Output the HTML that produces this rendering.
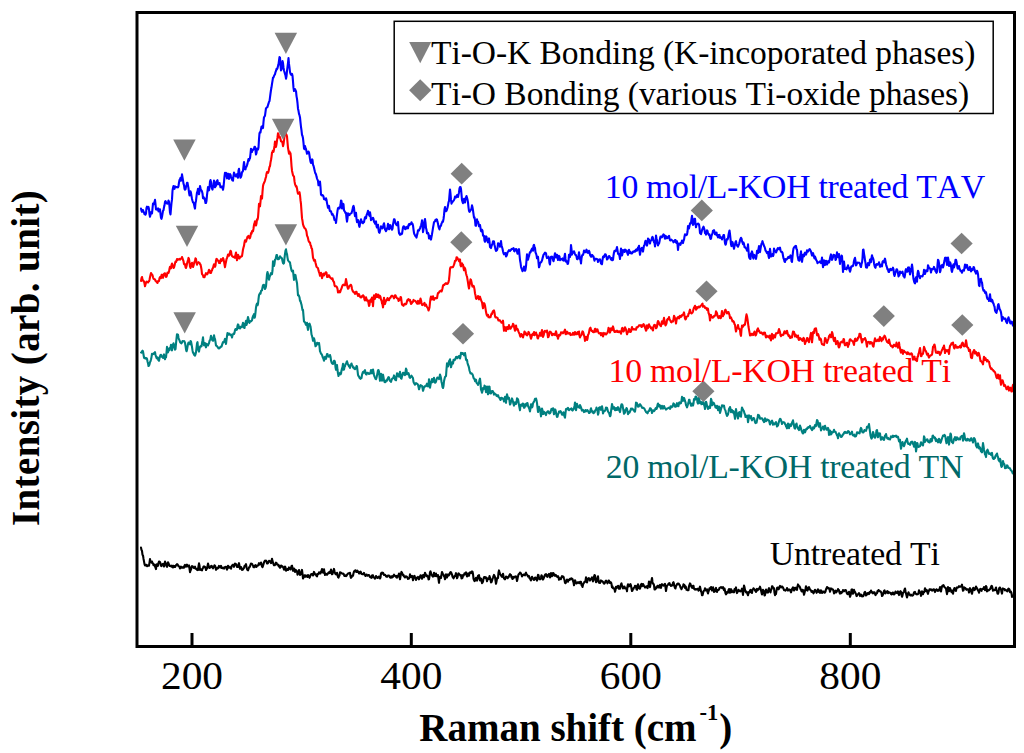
<!DOCTYPE html>
<html><head><meta charset="utf-8"><style>
html,body{margin:0;padding:0;background:#fff;width:1024px;height:753px;overflow:hidden}
svg{display:block}
text{font-family:"Liberation Serif",serif;font-kerning:none}
</style></head><body>
<svg width="1024" height="753" viewBox="0 0 1024 753">
<rect x="0" y="0" width="1024" height="753" fill="#fff"/>
<g fill="none" stroke-width="2.1" stroke-linejoin="round" stroke-linecap="round">
<path d="M141.0,547.6 141.5,550.0 142.0,550.8 142.5,554.8 143.0,555.5 143.5,558.7 144.0,561.4 144.5,564.1 145.0,565.5 145.5,564.8 146.0,565.3 146.5,564.8 147.0,566.2 147.5,566.0 148.0,565.6 148.5,565.2 149.0,565.7 149.5,562.6 150.0,559.1 150.5,561.8 151.0,561.4 151.5,562.6 152.0,561.5 152.5,562.9 153.0,563.4 153.5,565.1 154.0,564.4 154.5,564.7 155.0,566.4 155.5,567.7 156.0,569.1 156.5,564.5 157.0,564.3 157.5,566.0 158.0,565.7 158.5,562.9 159.0,561.6 159.5,561.5 160.0,562.2 160.5,563.4 161.0,565.9 161.5,566.1 162.0,564.2 162.5,564.2 163.0,563.9 163.5,564.5 164.0,566.6 164.5,563.9 165.0,561.6 165.5,563.1 166.0,564.0 166.5,566.0 167.0,566.8 167.5,564.0 168.0,562.3 168.5,563.2 169.0,564.6 169.5,566.0 170.0,565.8 170.5,565.8 171.0,565.7 171.5,566.7 172.0,565.6 172.5,566.6 173.0,567.5 173.5,565.8 174.0,566.8 174.5,566.0 175.0,567.0 175.5,566.4 176.0,565.3 176.5,564.8 177.0,564.2 177.5,564.5 178.0,565.1 178.5,566.3 179.0,566.3 179.5,566.6 180.0,568.5 180.5,567.4 181.0,566.6 181.5,567.7 182.0,567.7 182.5,567.8 183.0,567.1 183.5,567.0 184.0,567.7 184.5,565.5 185.0,564.8 185.5,566.0 186.0,566.7 186.5,565.9 187.0,564.7 187.5,565.9 188.0,566.4 188.5,565.6 189.0,565.4 189.5,568.5 190.0,572.2 190.5,570.4 191.0,569.7 191.5,566.9 192.0,566.1 192.5,566.3 193.0,566.8 193.5,567.7 194.0,568.0 194.5,567.5 195.0,566.7 195.5,568.7 196.0,568.8 196.5,569.0 197.0,569.8 197.5,568.6 198.0,570.1 198.5,566.1 199.0,563.4 199.5,565.5 200.0,569.9 200.5,569.3 201.0,569.2 201.5,570.2 202.0,570.4 202.5,568.8 203.0,568.0 203.5,566.7 204.0,566.4 204.5,567.1 205.0,566.9 205.5,567.5 206.0,570.0 206.5,568.8 207.0,568.5 207.5,566.1 208.0,563.6 208.5,565.4 209.0,567.6 209.5,567.9 210.0,566.9 210.5,567.4 211.0,566.1 211.5,565.8 212.0,566.2 212.5,567.5 213.0,568.3 213.5,567.2 214.0,566.3 214.5,565.3 215.0,565.7 215.5,567.2 216.0,569.7 216.5,568.6 217.0,568.7 217.5,567.8 218.0,568.3 218.5,567.4 219.0,565.9 219.5,566.5 220.0,567.3 220.5,566.6 221.0,565.8 221.5,567.9 222.0,567.7 222.5,568.2 223.0,567.5 223.5,568.0 224.0,568.6 224.5,567.5 225.0,567.0 225.5,567.0 226.0,566.8 226.5,568.3 227.0,569.6 227.5,567.9 228.0,565.7 228.5,566.2 229.0,567.8 229.5,567.7 230.0,567.1 230.5,567.4 231.0,568.7 231.5,566.7 232.0,565.4 232.5,565.2 233.0,564.7 233.5,565.5 234.0,566.8 234.5,565.2 235.0,563.6 235.5,564.4 236.0,564.1 236.5,565.2 237.0,567.0 237.5,566.4 238.0,566.9 238.5,564.6 239.0,563.2 239.5,565.7 240.0,568.8 240.5,568.4 241.0,567.0 241.5,568.0 242.0,570.0 242.5,569.5 243.0,569.5 243.5,568.4 244.0,567.9 244.5,566.1 245.0,565.6 245.5,565.2 246.0,564.1 246.5,567.2 247.0,569.1 247.5,570.1 248.0,570.3 248.5,569.0 249.0,567.3 249.5,567.4 250.0,566.4 250.5,564.8 251.0,563.5 251.5,564.2 252.0,563.8 252.5,564.7 253.0,565.5 253.5,567.1 254.0,567.3 254.5,566.3 255.0,565.5 255.5,565.1 256.0,566.9 256.5,566.9 257.0,565.6 257.5,565.6 258.0,565.5 258.5,564.4 259.0,563.2 259.5,564.6 260.0,564.0 260.5,564.1 261.0,562.6 261.5,564.1 262.0,566.5 262.5,567.2 263.0,565.8 263.5,564.2 264.0,562.4 264.5,561.3 265.0,560.7 265.5,561.2 266.0,560.5 266.5,561.3 267.0,563.4 267.5,563.5 268.0,563.2 268.5,562.0 269.0,560.8 269.5,561.5 270.0,561.1 270.5,561.9 271.0,563.1 271.5,561.4 272.0,558.8 272.5,561.1 273.0,562.4 273.5,564.1 274.0,565.2 274.5,565.2 275.0,565.1 275.5,564.2 276.0,562.7 276.5,562.9 277.0,564.3 277.5,564.6 278.0,564.5 278.5,565.9 279.0,565.3 279.5,567.3 280.0,567.8 280.5,566.4 281.0,565.5 281.5,565.8 282.0,566.7 282.5,566.3 283.0,566.9 283.5,568.2 284.0,569.6 284.5,569.5 285.0,566.6 285.5,567.3 286.0,570.7 286.5,570.2 287.0,569.5 287.5,569.1 288.0,570.0 288.5,568.9 289.0,567.4 289.5,568.3 290.0,569.0 290.5,569.5 291.0,567.7 291.5,566.1 292.0,565.7 292.5,568.0 293.0,570.7 293.5,570.5 294.0,568.6 294.5,570.4 295.0,571.9 295.5,569.8 296.0,570.3 296.5,570.8 297.0,571.2 297.5,574.6 298.0,573.2 298.5,571.8 299.0,570.0 299.5,573.0 300.0,574.9 300.5,574.5 301.0,573.3 301.5,571.5 302.0,569.9 302.5,573.9 303.0,578.5 303.5,577.5 304.0,577.0 304.5,575.2 305.0,575.7 305.5,576.7 306.0,575.4 306.5,576.3 307.0,576.4 307.5,576.9 308.0,575.0 308.5,576.0 309.0,576.2 309.5,577.8 310.0,576.7 310.5,575.1 311.0,574.4 311.5,574.0 312.0,574.1 312.5,575.0 313.0,575.5 313.5,573.6 314.0,571.9 314.5,573.3 315.0,574.2 315.5,574.7 316.0,574.4 316.5,575.8 317.0,576.5 317.5,574.1 318.0,574.3 318.5,573.8 319.0,572.3 319.5,573.3 320.0,573.5 320.5,573.4 321.0,571.6 321.5,570.9 322.0,569.1 322.5,572.1 323.0,572.7 323.5,571.3 324.0,569.2 324.5,572.3 325.0,575.0 325.5,574.1 326.0,573.8 326.5,574.3 327.0,574.8 327.5,574.1 328.0,573.5 328.5,572.6 329.0,572.9 329.5,571.9 330.0,573.1 330.5,571.9 331.0,569.6 331.5,571.8 332.0,574.2 332.5,574.0 333.0,572.3 333.5,570.6 334.0,568.9 334.5,571.2 335.0,573.1 335.5,574.0 336.0,574.3 336.5,574.5 337.0,572.8 337.5,575.0 338.0,577.0 338.5,577.6 339.0,576.2 339.5,575.6 340.0,572.4 340.5,572.7 341.0,572.6 341.5,573.2 342.0,573.5 342.5,573.6 343.0,573.6 343.5,573.7 344.0,575.0 344.5,576.0 345.0,575.8 345.5,575.4 346.0,576.1 346.5,575.8 347.0,574.8 347.5,574.1 348.0,573.5 348.5,573.4 349.0,573.3 349.5,573.0 350.0,572.9 350.5,576.3 351.0,577.8 351.5,577.3 352.0,575.9 352.5,575.4 353.0,575.7 353.5,573.2 354.0,571.6 354.5,570.9 355.0,571.3 355.5,570.3 356.0,571.4 356.5,572.0 357.0,571.9 357.5,570.7 358.0,571.7 358.5,572.1 359.0,573.4 359.5,573.5 360.0,571.9 360.5,571.6 361.0,572.4 361.5,573.8 362.0,574.1 362.5,574.3 363.0,573.8 363.5,574.2 364.0,572.9 364.5,574.4 365.0,575.0 365.5,576.0 366.0,575.0 366.5,574.5 367.0,574.8 367.5,575.6 368.0,575.5 368.5,575.1 369.0,575.0 369.5,575.8 370.0,577.0 370.5,577.2 371.0,577.6 371.5,577.8 372.0,575.5 372.5,575.3 373.0,575.4 373.5,577.4 374.0,577.6 374.5,577.9 375.0,578.7 375.5,577.1 376.0,576.0 376.5,577.2 377.0,577.5 377.5,578.0 378.0,577.4 378.5,576.7 379.0,576.6 379.5,577.9 380.0,578.4 380.5,577.5 381.0,573.2 381.5,574.0 382.0,572.6 382.5,572.7 383.0,572.7 383.5,574.1 384.0,575.0 384.5,574.7 385.0,574.7 385.5,575.3 386.0,576.4 386.5,576.1 387.0,576.8 387.5,576.0 388.0,575.6 388.5,575.5 389.0,575.6 389.5,576.6 390.0,577.4 390.5,577.7 391.0,576.4 391.5,576.4 392.0,577.6 392.5,576.4 393.0,576.8 393.5,575.5 394.0,574.7 394.5,575.8 395.0,575.7 395.5,576.4 396.0,575.8 396.5,577.5 397.0,577.6 397.5,575.9 398.0,576.4 398.5,575.4 399.0,573.5 399.5,576.5 400.0,579.2 400.5,576.6 401.0,573.6 401.5,571.9 402.0,572.9 402.5,573.7 403.0,575.3 403.5,574.9 404.0,576.3 404.5,576.9 405.0,577.4 405.5,576.4 406.0,576.2 406.5,576.8 407.0,576.9 407.5,578.0 408.0,578.9 408.5,578.7 409.0,578.5 409.5,577.5 410.0,574.4 410.5,576.7 411.0,577.0 411.5,576.6 412.0,575.8 412.5,577.6 413.0,580.3 413.5,578.3 414.0,576.2 414.5,575.9 415.0,577.3 415.5,578.0 416.0,579.9 416.5,579.0 417.0,577.5 417.5,577.9 418.0,576.9 418.5,577.8 419.0,579.3 419.5,578.1 420.0,576.7 420.5,575.3 421.0,575.5 421.5,577.6 422.0,578.7 422.5,576.5 423.0,575.0 423.5,576.8 424.0,577.3 424.5,575.2 425.0,572.8 425.5,573.9 426.0,575.3 426.5,576.1 427.0,575.5 427.5,575.8 428.0,576.5 428.5,579.4 429.0,579.2 429.5,576.4 430.0,572.2 430.5,571.4 431.0,573.1 431.5,574.7 432.0,575.1 432.5,576.2 433.0,576.6 433.5,575.4 434.0,572.8 434.5,575.1 435.0,576.1 435.5,575.8 436.0,573.6 436.5,576.2 437.0,576.3 437.5,575.6 438.0,575.0 438.5,579.4 439.0,582.8 439.5,578.3 440.0,577.0 440.5,576.4 441.0,578.0 441.5,574.6 442.0,572.0 442.5,573.2 443.0,574.4 443.5,574.5 444.0,576.1 444.5,576.9 445.0,579.2 445.5,577.5 446.0,574.4 446.5,576.1 447.0,577.5 447.5,575.3 448.0,574.4 448.5,575.6 449.0,575.2 449.5,574.5 450.0,572.8 450.5,572.1 451.0,572.2 451.5,573.4 452.0,574.6 452.5,576.7 453.0,577.5 453.5,578.3 454.0,577.4 454.5,576.0 455.0,575.9 455.5,574.6 456.0,573.2 456.5,575.9 457.0,578.2 457.5,577.2 458.0,574.8 458.5,573.4 459.0,573.8 459.5,574.5 460.0,575.0 460.5,575.7 461.0,575.1 461.5,578.4 462.0,578.2 462.5,577.7 463.0,575.0 463.5,575.7 464.0,574.8 464.5,573.4 465.0,574.1 465.5,573.0 466.0,572.3 466.5,574.8 467.0,576.4 467.5,575.9 468.0,573.6 468.5,573.5 469.0,575.8 469.5,573.0 470.0,572.3 470.5,572.5 471.0,573.1 471.5,572.0 472.0,571.4 472.5,571.6 473.0,574.0 473.5,578.6 474.0,580.1 474.5,581.1 475.0,580.7 475.5,578.8 476.0,577.8 476.5,579.7 477.0,580.6 477.5,578.6 478.0,575.9 478.5,575.8 479.0,575.1 479.5,578.5 480.0,580.4 480.5,578.3 481.0,578.6 481.5,580.5 482.0,583.1 482.5,582.5 483.0,581.5 483.5,578.9 484.0,577.2 484.5,577.0 485.0,577.0 485.5,578.1 486.0,577.3 486.5,578.5 487.0,581.3 487.5,579.6 488.0,578.4 488.5,579.0 489.0,578.9 489.5,576.1 490.0,577.8 490.5,579.9 491.0,582.4 491.5,582.1 492.0,580.6 492.5,578.9 493.0,577.6 493.5,576.1 494.0,574.9 494.5,575.9 495.0,577.2 495.5,580.6 496.0,583.8 496.5,581.5 497.0,578.5 497.5,577.7 498.0,578.1 498.5,572.5 499.0,570.4 499.5,572.4 500.0,574.0 500.5,574.6 501.0,575.5 501.5,576.3 502.0,576.9 502.5,575.9 503.0,573.7 503.5,576.3 504.0,578.5 504.5,578.3 505.0,579.4 505.5,578.0 506.0,576.5 506.5,577.4 507.0,576.9 507.5,578.2 508.0,577.7 508.5,577.3 509.0,576.1 509.5,575.0 510.0,574.2 510.5,575.1 511.0,575.0 511.5,577.5 512.0,577.9 512.5,579.0 513.0,576.7 513.5,578.2 514.0,577.3 514.5,577.1 515.0,576.6 515.5,576.7 516.0,576.3 516.5,578.4 517.0,581.0 517.5,578.9 518.0,576.4 518.5,574.5 519.0,574.0 519.5,573.7 520.0,572.5 520.5,572.9 521.0,573.6 521.5,574.6 522.0,576.4 522.5,575.0 523.0,575.4 523.5,574.6 524.0,574.7 524.5,574.6 525.0,575.3 525.5,573.6 526.0,572.7 526.5,574.4 527.0,574.7 527.5,575.2 528.0,576.5 528.5,576.0 529.0,576.0 529.5,578.3 530.0,578.3 530.5,579.7 531.0,580.4 531.5,577.9 532.0,576.8 532.5,577.9 533.0,578.5 533.5,579.4 534.0,579.9 534.5,578.4 535.0,577.6 535.5,577.6 536.0,579.2 536.5,579.6 537.0,580.6 537.5,577.7 538.0,574.9 538.5,575.2 539.0,577.9 539.5,579.3 540.0,579.3 540.5,579.2 541.0,577.3 541.5,575.2 542.0,576.2 542.5,578.4 543.0,579.6 543.5,578.7 544.0,577.3 544.5,576.0 545.0,574.8 545.5,574.4 546.0,574.1 546.5,575.9 547.0,576.6 547.5,576.8 548.0,575.0 548.5,574.5 549.0,573.9 549.5,575.0 550.0,577.4 550.5,575.9 551.0,573.1 551.5,574.0 552.0,576.3 552.5,575.4 553.0,573.0 553.5,573.2 554.0,574.2 554.5,575.7 555.0,575.7 555.5,574.8 556.0,575.3 556.5,576.4 557.0,576.4 557.5,577.0 558.0,576.2 558.5,577.2 559.0,579.8 559.5,578.9 560.0,578.2 560.5,578.3 561.0,579.1 561.5,577.2 562.0,576.1 562.5,577.0 563.0,576.5 563.5,576.8 564.0,578.5 564.5,580.0 565.0,582.7 565.5,583.2 566.0,582.1 566.5,581.4 567.0,579.5 567.5,581.3 568.0,581.6 568.5,580.1 569.0,579.6 569.5,579.9 570.0,578.8 570.5,579.3 571.0,578.8 571.5,578.3 572.0,579.2 572.5,579.1 573.0,580.9 573.5,582.4 574.0,585.3 574.5,582.8 575.0,580.2 575.5,581.5 576.0,582.2 576.5,583.5 577.0,583.0 577.5,583.0 578.0,582.2 578.5,582.5 579.0,583.2 579.5,583.1 580.0,582.0 580.5,581.7 581.0,582.0 581.5,585.0 582.0,585.6 582.5,587.0 583.0,584.7 583.5,583.4 584.0,582.8 584.5,581.8 585.0,581.9 585.5,580.6 586.0,577.3 586.5,580.5 587.0,582.4 587.5,580.7 588.0,578.8 588.5,578.1 589.0,578.3 589.5,579.4 590.0,580.6 590.5,579.3 591.0,579.2 591.5,578.2 592.0,577.4 592.5,579.5 593.0,581.4 593.5,580.4 594.0,576.8 594.5,575.1 595.0,575.4 595.5,577.8 596.0,582.2 596.5,581.7 597.0,580.6 597.5,579.1 598.0,576.4 598.5,580.6 599.0,582.7 599.5,582.8 600.0,583.0 600.5,582.1 601.0,580.4 601.5,581.0 602.0,581.1 602.5,581.5 603.0,581.8 603.5,583.0 604.0,583.7 604.5,583.5 605.0,582.7 605.5,581.2 606.0,580.6 606.5,581.8 607.0,582.2 607.5,583.4 608.0,582.4 608.5,580.6 609.0,580.6 609.5,581.9 610.0,583.0 610.5,582.2 611.0,582.4 611.5,584.0 612.0,587.3 612.5,586.5 613.0,588.1 613.5,588.5 614.0,588.3 614.5,589.1 615.0,591.8 615.5,590.0 616.0,586.7 616.5,586.7 617.0,587.8 617.5,586.6 618.0,585.9 618.5,586.0 619.0,588.7 619.5,588.7 620.0,588.6 620.5,586.8 621.0,584.2 621.5,583.4 622.0,585.8 622.5,586.4 623.0,588.4 623.5,587.3 624.0,586.5 624.5,586.5 625.0,588.4 625.5,588.4 626.0,588.3 626.5,588.5 627.0,591.2 627.5,586.2 628.0,584.2 628.5,585.3 629.0,586.4 629.5,585.7 630.0,584.5 630.5,584.1 631.0,585.8 631.5,588.5 632.0,591.0 632.5,590.6 633.0,588.5 633.5,588.7 634.0,587.6 634.5,587.4 635.0,585.7 635.5,586.7 636.0,586.0 636.5,589.4 637.0,589.8 637.5,586.3 638.0,584.3 638.5,585.9 639.0,588.0 639.5,588.6 640.0,588.6 640.5,586.8 641.0,584.6 641.5,583.9 642.0,586.2 642.5,585.4 643.0,584.0 643.5,584.8 644.0,586.2 644.5,586.5 645.0,587.4 645.5,587.4 646.0,586.7 646.5,586.4 647.0,586.3 647.5,588.1 648.0,586.4 648.5,584.7 649.0,581.5 649.5,583.1 650.0,587.1 650.5,584.1 651.0,581.8 651.5,580.6 652.0,578.0 652.5,582.0 653.0,583.8 653.5,583.8 654.0,585.1 654.5,589.4 655.0,589.4 655.5,589.0 656.0,587.2 656.5,588.1 657.0,586.7 657.5,585.8 658.0,585.7 658.5,587.0 659.0,587.6 659.5,585.5 660.0,584.8 660.5,585.9 661.0,587.9 661.5,585.5 662.0,584.2 662.5,584.7 663.0,585.1 663.5,585.7 664.0,585.3 664.5,584.3 665.0,583.9 665.5,587.4 666.0,591.0 666.5,587.8 667.0,585.7 667.5,585.2 668.0,584.8 668.5,583.7 669.0,583.3 669.5,583.1 670.0,584.9 670.5,585.0 671.0,585.9 671.5,585.3 672.0,585.6 672.5,585.1 673.0,582.7 673.5,582.2 674.0,584.0 674.5,586.7 675.0,587.9 675.5,588.4 676.0,586.1 676.5,585.3 677.0,584.2 677.5,583.6 678.0,584.1 678.5,583.5 679.0,584.1 679.5,584.8 680.0,585.8 680.5,587.5 681.0,588.1 681.5,589.2 682.0,587.8 682.5,587.0 683.0,586.5 683.5,584.3 684.0,585.3 684.5,585.1 685.0,587.9 685.5,586.3 686.0,587.0 686.5,589.7 687.0,589.7 687.5,590.1 688.0,590.1 688.5,590.1 689.0,586.1 689.5,585.0 690.0,583.4 690.5,584.1 691.0,585.7 691.5,586.8 692.0,587.7 692.5,587.9 693.0,585.8 693.5,585.9 694.0,588.7 694.5,589.0 695.0,589.6 695.5,589.3 696.0,589.0 696.5,589.5 697.0,589.2 697.5,588.9 698.0,588.8 698.5,590.7 699.0,590.1 699.5,588.1 700.0,586.7 700.5,588.9 701.0,591.3 701.5,592.4 702.0,595.2 702.5,595.3 703.0,593.2 703.5,591.3 704.0,590.8 704.5,590.2 705.0,588.3 705.5,589.5 706.0,590.5 706.5,589.9 707.0,589.3 707.5,592.0 708.0,593.5 708.5,591.6 709.0,590.2 709.5,588.2 710.0,589.1 710.5,587.8 711.0,587.0 711.5,588.3 712.0,590.5 712.5,588.5 713.0,587.3 713.5,589.8 714.0,591.9 714.5,591.7 715.0,591.4 715.5,588.9 716.0,587.9 716.5,590.4 717.0,592.0 717.5,590.1 718.0,590.3 718.5,589.9 719.0,589.6 719.5,587.9 720.0,587.7 720.5,587.5 721.0,587.1 721.5,587.6 722.0,588.2 722.5,587.4 723.0,587.1 723.5,588.5 724.0,590.3 724.5,588.5 725.0,590.7 725.5,593.3 726.0,594.3 726.5,593.7 727.0,592.0 727.5,592.5 728.0,592.7 728.5,589.9 729.0,589.0 729.5,590.3 730.0,592.8 730.5,590.3 731.0,589.1 731.5,590.0 732.0,592.3 732.5,591.4 733.0,591.4 733.5,591.2 734.0,592.4 734.5,589.2 735.0,588.7 735.5,588.8 736.0,587.4 736.5,591.6 737.0,593.1 737.5,592.1 738.0,591.2 738.5,589.8 739.0,590.6 739.5,591.2 740.0,590.8 740.5,591.5 741.0,590.9 741.5,590.2 742.0,588.7 742.5,591.6 743.0,594.9 743.5,589.8 744.0,585.6 744.5,587.1 745.0,589.9 745.5,591.3 746.0,592.4 746.5,591.8 747.0,592.3 747.5,594.1 748.0,595.2 748.5,593.1 749.0,591.8 749.5,592.5 750.0,590.5 750.5,589.9 751.0,590.4 751.5,592.4 752.0,592.9 752.5,589.7 753.0,589.4 753.5,588.3 754.0,589.1 754.5,589.3 755.0,590.5 755.5,591.2 756.0,591.9 756.5,589.7 757.0,588.8 757.5,590.4 758.0,589.8 758.5,589.6 759.0,588.3 759.5,588.3 760.0,586.7 760.5,588.4 761.0,590.2 761.5,592.6 762.0,594.4 762.5,592.6 763.0,589.8 763.5,591.2 764.0,591.0 764.5,595.5 765.0,595.2 765.5,590.9 766.0,589.5 766.5,591.3 767.0,592.5 767.5,592.1 768.0,592.6 768.5,589.2 769.0,588.2 769.5,589.7 770.0,591.5 770.5,592.3 771.0,590.1 771.5,589.2 772.0,586.4 772.5,586.3 773.0,587.6 773.5,588.0 774.0,588.2 774.5,592.8 775.0,595.1 775.5,593.6 776.0,593.9 776.5,590.7 777.0,588.1 777.5,587.6 778.0,587.7 778.5,589.3 779.0,588.8 779.5,586.8 780.0,585.9 780.5,587.2 781.0,587.4 781.5,586.9 782.0,586.4 782.5,586.9 783.0,587.6 783.5,588.7 784.0,590.0 784.5,590.3 785.0,590.3 785.5,590.7 786.0,590.0 786.5,589.5 787.0,588.1 787.5,589.6 788.0,590.6 788.5,589.5 789.0,589.6 789.5,589.6 790.0,589.7 790.5,591.4 791.0,592.4 791.5,590.9 792.0,589.1 792.5,588.2 793.0,587.3 793.5,589.6 794.0,590.5 794.5,588.4 795.0,587.7 795.5,587.8 796.0,589.4 796.5,587.9 797.0,589.9 797.5,586.6 798.0,584.4 798.5,585.4 799.0,586.0 799.5,586.3 800.0,587.4 800.5,589.1 801.0,589.6 801.5,591.2 802.0,591.5 802.5,589.9 803.0,590.0 803.5,592.1 804.0,594.8 804.5,593.0 805.0,590.8 805.5,588.7 806.0,586.2 806.5,587.8 807.0,590.4 807.5,590.6 808.0,589.4 808.5,587.5 809.0,587.2 809.5,588.7 810.0,589.4 810.5,590.1 811.0,590.4 811.5,591.8 812.0,591.6 812.5,591.1 813.0,592.3 813.5,593.3 814.0,592.2 814.5,590.9 815.0,589.8 815.5,590.1 816.0,591.2 816.5,592.8 817.0,592.2 817.5,591.5 818.0,589.3 818.5,589.9 819.0,592.0 819.5,592.3 820.0,593.0 820.5,590.5 821.0,590.4 821.5,591.2 822.0,592.9 822.5,592.4 823.0,591.5 823.5,592.2 824.0,591.5 824.5,592.7 825.0,592.5 825.5,591.6 826.0,589.2 826.5,588.4 827.0,587.0 827.5,587.4 828.0,588.4 828.5,588.0 829.0,588.2 829.5,589.4 830.0,591.8 830.5,590.0 831.0,588.4 831.5,588.6 832.0,589.1 832.5,589.4 833.0,589.5 833.5,590.9 834.0,593.4 834.5,592.0 835.0,592.2 835.5,590.7 836.0,592.6 836.5,592.1 837.0,591.1 837.5,590.5 838.0,589.0 838.5,589.9 839.0,590.2 839.5,592.5 840.0,593.6 840.5,592.0 841.0,592.1 841.5,593.1 842.0,592.2 842.5,591.8 843.0,590.0 843.5,590.8 844.0,591.3 844.5,590.7 845.0,590.0 845.5,590.0 846.0,590.4 846.5,592.2 847.0,593.5 847.5,594.1 848.0,594.1 848.5,593.2 849.0,591.8 849.5,594.2 850.0,596.8 850.5,595.4 851.0,593.4 851.5,589.7 852.0,589.4 852.5,591.3 853.0,593.8 853.5,592.1 854.0,589.8 854.5,591.2 855.0,591.8 855.5,593.0 856.0,594.1 856.5,596.1 857.0,595.7 857.5,594.6 858.0,594.2 858.5,593.9 859.0,593.1 859.5,594.2 860.0,596.1 860.5,595.1 861.0,594.5 861.5,595.0 862.0,596.5 862.5,596.3 863.0,596.3 863.5,595.6 864.0,594.1 864.5,592.4 865.0,591.8 865.5,593.2 866.0,595.5 866.5,593.8 867.0,594.7 867.5,593.2 868.0,593.5 868.5,592.8 869.0,594.1 869.5,592.8 870.0,591.8 870.5,592.4 871.0,590.5 871.5,591.8 872.0,591.8 872.5,593.0 873.0,593.3 873.5,592.2 874.0,592.2 874.5,592.3 875.0,593.9 875.5,595.1 876.0,593.5 876.5,593.7 877.0,593.3 877.5,591.0 878.0,591.5 878.5,590.1 879.0,590.4 879.5,591.1 880.0,591.4 880.5,591.3 881.0,592.1 881.5,593.0 882.0,596.0 882.5,595.6 883.0,594.6 883.5,593.1 884.0,590.9 884.5,590.3 885.0,593.0 885.5,593.3 886.0,592.6 886.5,591.7 887.0,591.4 887.5,591.2 888.0,593.2 888.5,592.7 889.0,592.2 889.5,592.7 890.0,592.7 890.5,592.7 891.0,594.0 891.5,594.4 892.0,594.3 892.5,592.7 893.0,592.5 893.5,594.0 894.0,594.5 894.5,594.1 895.0,592.9 895.5,591.5 896.0,592.1 896.5,592.8 897.0,592.5 897.5,593.1 898.0,591.4 898.5,593.1 899.0,595.1 899.5,592.7 900.0,591.8 900.5,591.2 901.0,591.8 901.5,595.0 902.0,596.8 902.5,595.4 903.0,592.7 903.5,592.5 904.0,591.3 904.5,589.7 905.0,588.5 905.5,591.2 906.0,593.5 906.5,595.4 907.0,597.5 907.5,595.7 908.0,593.7 908.5,592.3 909.0,593.5 909.5,594.6 910.0,595.2 910.5,595.5 911.0,594.7 911.5,595.4 912.0,595.5 912.5,595.6 913.0,595.4 913.5,594.3 914.0,592.5 914.5,592.2 915.0,591.8 915.5,593.8 916.0,593.7 916.5,594.3 917.0,594.4 917.5,594.1 918.0,594.1 918.5,593.0 919.0,590.3 919.5,591.5 920.0,592.1 920.5,593.2 921.0,595.9 921.5,593.1 922.0,591.3 922.5,591.9 923.0,594.2 923.5,592.3 924.0,592.3 924.5,590.8 925.0,588.2 925.5,589.4 926.0,591.3 926.5,590.1 927.0,590.2 927.5,592.6 928.0,593.8 928.5,591.5 929.0,590.8 929.5,589.3 930.0,590.0 930.5,589.3 931.0,589.4 931.5,590.1 932.0,590.7 932.5,589.8 933.0,590.1 933.5,589.2 934.0,589.2 934.5,590.1 935.0,592.1 935.5,590.1 936.0,590.3 936.5,589.3 937.0,590.4 937.5,590.1 938.0,590.9 938.5,589.9 939.0,590.3 939.5,589.5 940.0,587.1 940.5,590.9 941.0,591.5 941.5,588.4 942.0,586.4 942.5,585.5 943.0,586.0 943.5,585.1 944.0,586.3 944.5,587.2 945.0,587.6 945.5,587.8 946.0,588.6 946.5,591.5 947.0,594.1 947.5,590.6 948.0,587.1 948.5,588.2 949.0,591.2 949.5,588.3 950.0,588.0 950.5,589.5 951.0,590.9 951.5,592.2 952.0,590.6 952.5,592.0 953.0,593.7 953.5,590.9 954.0,589.2 954.5,588.0 955.0,590.0 955.5,590.8 956.0,590.9 956.5,588.0 957.0,587.3 957.5,587.7 958.0,587.2 958.5,587.2 959.0,586.2 959.5,586.6 960.0,586.6 960.5,586.6 961.0,586.5 961.5,585.8 962.0,584.6 962.5,588.3 963.0,590.7 963.5,590.4 964.0,587.4 964.5,588.2 965.0,587.9 965.5,588.2 966.0,589.2 966.5,589.8 967.0,589.4 967.5,589.3 968.0,589.2 968.5,590.3 969.0,592.5 969.5,589.4 970.0,588.2 970.5,589.2 971.0,590.3 971.5,592.6 972.0,593.7 972.5,591.2 973.0,588.3 973.5,587.8 974.0,589.0 974.5,590.1 975.0,589.6 975.5,588.5 976.0,586.5 976.5,587.6 977.0,588.2 977.5,589.2 978.0,590.8 978.5,590.7 979.0,592.8 979.5,590.6 980.0,589.2 980.5,588.8 981.0,589.9 981.5,590.9 982.0,589.0 982.5,589.0 983.0,588.6 983.5,589.0 984.0,587.1 984.5,588.5 985.0,590.2 985.5,588.2 986.0,586.1 986.5,586.8 987.0,591.4 987.5,590.7 988.0,590.0 988.5,590.5 989.0,590.2 989.5,589.4 990.0,589.2 990.5,588.4 991.0,586.9 991.5,585.9 992.0,586.2 992.5,588.3 993.0,590.8 993.5,589.9 994.0,590.3 994.5,590.0 995.0,590.2 995.5,588.8 996.0,587.5 996.5,590.1 997.0,591.1 997.5,593.5 998.0,593.7 998.5,592.6 999.0,589.0 999.5,587.7 1000.0,587.5 1000.5,588.8 1001.0,589.1 1001.5,592.0 1002.0,593.6 1002.5,590.0 1003.0,588.4 1003.5,589.3 1004.0,589.3 1004.5,589.0 1005.0,590.3 1005.5,589.9 1006.0,590.0 1006.5,590.6 1007.0,591.2 1007.5,591.4 1008.0,589.4 1008.5,588.6 1009.0,588.9 1009.5,589.4 1010.0,592.1 1010.5,591.3 1011.0,591.8 1011.5,593.2 1012.0,596.9 1012.5,595.6 1013.0,596.5" stroke="#000"/>
<path d="M141.0,352.5 141.5,352.6 142.0,351.3 142.5,350.7 143.0,351.4 143.5,354.5 144.0,357.7 144.5,358.2 145.0,357.8 145.5,358.2 146.0,358.7 146.5,358.0 147.0,358.8 147.5,361.4 148.0,363.3 148.5,366.0 149.0,365.7 149.5,364.4 150.0,362.0 150.5,361.3 151.0,359.5 151.5,357.1 152.0,353.7 152.5,354.4 153.0,353.7 153.5,353.9 154.0,353.0 154.5,353.2 155.0,352.2 155.5,354.8 156.0,356.3 156.5,358.0 157.0,358.4 157.5,357.4 158.0,358.9 158.5,360.3 159.0,360.8 159.5,358.1 160.0,356.3 160.5,355.0 161.0,354.9 161.5,356.6 162.0,356.7 162.5,356.5 163.0,358.0 163.5,355.4 164.0,354.4 164.5,357.0 165.0,359.3 165.5,357.5 166.0,357.3 166.5,352.6 167.0,346.9 167.5,349.0 168.0,352.4 168.5,349.7 169.0,348.6 169.5,350.2 170.0,348.0 170.5,347.4 171.0,344.7 171.5,346.2 172.0,350.4 172.5,347.0 173.0,344.5 173.5,343.3 174.0,345.0 174.5,347.6 175.0,349.7 175.5,349.1 176.0,343.6 176.5,338.6 177.0,334.2 177.5,335.8 178.0,334.6 178.5,337.7 179.0,339.5 179.5,340.3 180.0,341.9 180.5,342.7 181.0,343.0 181.5,343.3 182.0,342.5 182.5,341.1 183.0,341.2 183.5,341.2 184.0,341.1 184.5,341.6 185.0,342.8 185.5,345.7 186.0,349.4 186.5,351.3 187.0,349.8 187.5,346.8 188.0,344.1 188.5,342.5 189.0,343.4 189.5,343.5 190.0,344.3 190.5,341.1 191.0,341.4 191.5,343.9 192.0,347.0 192.5,350.4 193.0,352.8 193.5,352.9 194.0,354.7 194.5,354.9 195.0,355.6 195.5,354.3 196.0,352.3 196.5,348.2 197.0,343.5 197.5,342.2 198.0,347.9 198.5,350.4 199.0,351.6 199.5,348.6 200.0,346.9 200.5,346.2 201.0,346.0 201.5,346.4 202.0,343.2 202.5,340.5 203.0,337.4 203.5,342.5 204.0,345.2 204.5,343.9 205.0,343.2 205.5,345.9 206.0,347.3 206.5,343.8 207.0,344.7 207.5,345.1 208.0,345.4 208.5,344.1 209.0,343.3 209.5,341.0 210.0,339.8 210.5,338.3 211.0,335.8 211.5,337.1 212.0,339.7 212.5,340.4 213.0,340.8 213.5,338.8 214.0,335.3 214.5,338.0 215.0,338.9 215.5,342.2 216.0,345.5 216.5,345.5 217.0,346.2 217.5,346.7 218.0,347.7 218.5,348.3 219.0,348.5 219.5,348.0 220.0,347.8 220.5,346.8 221.0,346.6 221.5,346.6 222.0,345.2 222.5,343.4 223.0,342.2 223.5,342.5 224.0,341.5 224.5,340.3 225.0,338.9 225.5,341.1 226.0,344.0 226.5,339.8 227.0,336.2 227.5,333.0 228.0,334.3 228.5,334.6 229.0,333.5 229.5,334.1 230.0,334.5 230.5,335.1 231.0,334.6 231.5,335.5 232.0,337.6 232.5,335.2 233.0,334.5 233.5,333.5 234.0,334.0 234.5,332.8 235.0,330.1 235.5,329.0 236.0,329.3 236.5,329.9 237.0,329.5 237.5,325.9 238.0,324.4 238.5,325.1 239.0,328.2 239.5,328.1 240.0,328.4 240.5,326.9 241.0,326.8 241.5,327.2 242.0,327.1 242.5,325.1 243.0,322.7 243.5,323.5 244.0,327.7 244.5,328.0 245.0,324.3 245.5,323.1 246.0,320.8 246.5,324.9 247.0,323.5 247.5,320.0 248.0,317.0 248.5,318.9 249.0,321.9 249.5,322.8 250.0,321.1 250.5,321.4 251.0,321.4 251.5,320.8 252.0,320.4 252.5,317.7 253.0,316.3 253.5,315.3 254.0,314.2 254.5,317.8 255.0,316.7 255.5,312.4 256.0,307.5 256.5,304.9 257.0,303.5 257.5,305.3 258.0,303.9 258.5,299.1 259.0,295.1 259.5,294.3 260.0,293.1 260.5,293.7 261.0,291.1 261.5,290.6 262.0,290.3 262.5,287.4 263.0,285.2 263.5,285.0 264.0,284.8 264.5,287.7 265.0,289.0 265.5,288.1 266.0,286.3 266.5,280.3 267.0,274.2 267.5,272.0 268.0,273.9 268.5,277.9 269.0,279.7 269.5,277.2 270.0,275.8 270.5,274.7 271.0,273.2 271.5,274.4 272.0,274.1 272.5,270.7 273.0,261.4 273.5,263.4 274.0,266.0 274.5,263.7 275.0,259.6 275.5,259.4 276.0,257.2 276.5,255.0 277.0,255.1 277.5,257.9 278.0,259.3 278.5,259.2 279.0,258.9 279.5,258.1 280.0,256.2 280.5,257.2 281.0,257.5 281.5,257.7 282.0,258.5 282.5,261.0 283.0,263.0 283.5,263.6 284.0,263.1 284.5,258.0 285.0,253.9 285.5,250.6 286.0,249.3 286.5,252.6 287.0,254.0 287.5,257.6 288.0,260.2 288.5,261.0 289.0,261.7 289.5,261.8 290.0,262.5 290.5,265.8 291.0,267.9 291.5,270.2 292.0,271.3 292.5,270.9 293.0,270.6 293.5,275.5 294.0,279.9 294.5,276.6 295.0,274.8 295.5,275.1 296.0,278.3 296.5,280.7 297.0,282.9 297.5,289.0 298.0,295.3 298.5,295.0 299.0,296.0 299.5,297.4 300.0,300.9 300.5,300.9 301.0,303.2 301.5,304.6 302.0,307.4 302.5,310.0 303.0,309.8 303.5,315.8 304.0,321.6 304.5,321.8 305.0,322.2 305.5,323.8 306.0,324.9 306.5,324.3 307.0,322.8 307.5,327.4 308.0,329.9 308.5,325.2 309.0,323.9 309.5,323.7 310.0,325.0 310.5,326.5 311.0,330.2 311.5,334.5 312.0,335.9 312.5,337.9 313.0,340.8 313.5,338.3 314.0,338.4 314.5,340.1 315.0,343.6 315.5,346.3 316.0,345.8 316.5,344.9 317.0,342.9 317.5,342.9 318.0,344.0 318.5,344.2 319.0,343.0 319.5,346.3 320.0,351.3 320.5,352.2 321.0,353.8 321.5,354.0 322.0,354.9 322.5,356.5 323.0,357.8 323.5,358.9 324.0,360.8 324.5,358.3 325.0,356.8 325.5,357.8 326.0,358.8 326.5,356.8 327.0,354.0 327.5,354.0 328.0,356.2 328.5,356.5 329.0,356.7 329.5,356.0 330.0,355.0 330.5,356.7 331.0,360.3 331.5,362.3 332.0,363.3 332.5,363.0 333.0,364.0 333.5,362.5 334.0,360.7 334.5,360.8 335.0,362.2 335.5,367.2 336.0,369.8 336.5,367.0 337.0,365.1 337.5,370.0 338.0,373.6 338.5,376.0 339.0,374.2 339.5,374.0 340.0,372.9 340.5,374.3 341.0,373.6 341.5,370.5 342.0,368.6 342.5,367.1 343.0,363.9 343.5,369.8 344.0,369.6 344.5,367.1 345.0,366.2 345.5,364.0 346.0,364.0 346.5,362.3 347.0,361.3 347.5,363.2 348.0,364.6 348.5,364.7 349.0,366.6 349.5,366.6 350.0,367.9 350.5,365.4 351.0,364.5 351.5,363.5 352.0,365.2 352.5,365.7 353.0,367.6 353.5,367.0 354.0,368.1 354.5,368.9 355.0,369.2 355.5,368.8 356.0,367.9 356.5,366.0 357.0,366.3 357.5,370.5 358.0,374.8 358.5,376.0 359.0,376.5 359.5,377.8 360.0,377.5 360.5,378.8 361.0,378.3 361.5,378.1 362.0,374.9 362.5,373.2 363.0,371.9 363.5,371.7 364.0,372.6 364.5,371.1 365.0,370.1 365.5,373.1 366.0,374.3 366.5,374.5 367.0,372.9 367.5,373.0 368.0,372.9 368.5,373.5 369.0,374.0 369.5,373.6 370.0,373.6 370.5,372.1 371.0,370.0 371.5,372.2 372.0,373.4 372.5,371.0 373.0,369.5 373.5,372.1 374.0,374.8 374.5,376.6 375.0,377.6 375.5,378.8 376.0,379.1 376.5,377.8 377.0,375.5 377.5,373.0 378.0,370.3 378.5,370.0 379.0,371.6 379.5,376.3 380.0,380.8 380.5,378.2 381.0,373.7 381.5,376.1 382.0,380.7 382.5,375.8 383.0,374.6 383.5,377.1 384.0,380.3 384.5,381.9 385.0,382.3 385.5,382.1 386.0,380.8 386.5,380.0 387.0,380.6 387.5,378.9 388.0,378.0 388.5,377.1 389.0,377.6 389.5,379.6 390.0,380.9 390.5,380.7 391.0,381.9 391.5,380.2 392.0,378.8 392.5,378.5 393.0,378.2 393.5,377.3 394.0,375.4 394.5,376.6 395.0,379.6 395.5,379.9 396.0,380.3 396.5,376.8 397.0,373.4 397.5,373.5 398.0,375.7 398.5,376.3 399.0,376.6 399.5,374.4 400.0,371.8 400.5,375.0 401.0,378.3 401.5,378.6 402.0,376.4 402.5,374.4 403.0,372.7 403.5,372.8 404.0,374.4 404.5,374.8 405.0,375.2 405.5,371.9 406.0,368.6 406.5,369.6 407.0,374.3 407.5,374.2 408.0,374.1 408.5,373.1 409.0,374.8 409.5,377.3 410.0,377.9 410.5,377.2 411.0,376.8 411.5,375.7 412.0,376.7 412.5,377.3 413.0,378.3 413.5,381.8 414.0,383.0 414.5,383.9 415.0,384.7 415.5,384.0 416.0,383.1 416.5,383.4 417.0,383.8 417.5,384.0 418.0,384.8 418.5,386.9 419.0,389.3 419.5,387.9 420.0,386.2 420.5,385.1 421.0,385.6 421.5,385.8 422.0,386.0 422.5,387.9 423.0,390.8 423.5,389.4 424.0,387.0 424.5,386.3 425.0,386.6 425.5,386.1 426.0,386.1 426.5,384.8 427.0,383.7 427.5,384.8 428.0,386.5 428.5,385.8 429.0,379.2 429.5,384.1 430.0,387.7 430.5,384.8 431.0,382.1 431.5,381.3 432.0,379.1 432.5,382.2 433.0,381.9 433.5,380.2 434.0,377.8 434.5,380.8 435.0,382.7 435.5,382.5 436.0,381.5 436.5,379.7 437.0,378.1 437.5,377.5 438.0,377.7 438.5,378.2 439.0,379.1 439.5,377.4 440.0,374.5 440.5,376.1 441.0,378.3 441.5,381.9 442.0,383.8 442.5,387.1 443.0,388.0 443.5,386.0 444.0,381.2 444.5,379.0 445.0,377.1 445.5,376.6 446.0,376.0 446.5,369.3 447.0,363.3 447.5,364.9 448.0,366.4 448.5,365.0 449.0,361.2 449.5,360.6 450.0,359.3 450.5,363.7 451.0,367.3 451.5,365.2 452.0,362.4 452.5,363.3 453.0,363.7 453.5,360.0 454.0,359.7 454.5,360.2 455.0,359.8 455.5,358.7 456.0,357.0 456.5,356.9 457.0,357.4 457.5,358.2 458.0,356.9 458.5,357.2 459.0,356.0 459.5,356.7 460.0,358.5 460.5,356.3 461.0,352.9 461.5,353.3 462.0,353.9 462.5,353.0 463.0,354.0 463.5,353.7 464.0,355.3 464.5,353.8 465.0,353.0 465.5,356.0 466.0,359.6 466.5,360.3 467.0,359.9 467.5,362.9 468.0,364.8 468.5,365.9 469.0,367.6 469.5,370.5 470.0,372.0 470.5,373.4 471.0,373.6 471.5,373.3 472.0,373.8 472.5,374.2 473.0,375.8 473.5,377.7 474.0,378.7 474.5,378.8 475.0,381.1 475.5,379.7 476.0,379.8 476.5,382.6 477.0,383.3 477.5,383.6 478.0,385.0 478.5,383.5 479.0,382.5 479.5,380.0 480.0,378.7 480.5,382.8 481.0,389.6 481.5,390.8 482.0,392.8 482.5,390.9 483.0,388.0 483.5,389.2 484.0,388.6 484.5,385.6 485.0,386.2 485.5,388.8 486.0,392.1 486.5,389.5 487.0,386.5 487.5,390.8 488.0,394.3 488.5,393.3 489.0,386.5 489.5,386.7 490.0,391.5 490.5,393.4 491.0,393.4 491.5,391.6 492.0,391.1 492.5,391.0 493.0,391.3 493.5,392.8 494.0,394.6 494.5,393.3 495.0,393.9 495.5,394.2 496.0,394.6 496.5,395.7 497.0,396.1 497.5,396.3 498.0,395.2 498.5,396.5 499.0,397.3 499.5,398.0 500.0,399.1 500.5,400.0 501.0,398.0 501.5,397.8 502.0,398.6 502.5,398.3 503.0,398.5 503.5,399.2 504.0,401.5 504.5,400.5 505.0,396.9 505.5,399.2 506.0,402.8 506.5,397.1 507.0,394.4 507.5,396.2 508.0,398.8 508.5,398.0 509.0,397.9 509.5,400.8 510.0,404.5 510.5,403.9 511.0,401.6 511.5,400.4 512.0,398.4 512.5,399.8 513.0,401.7 513.5,404.0 514.0,405.6 514.5,404.2 515.0,402.2 515.5,403.1 516.0,404.0 516.5,402.4 517.0,398.3 517.5,399.1 518.0,399.3 518.5,401.8 519.0,405.1 519.5,407.8 520.0,410.2 520.5,404.9 521.0,404.7 521.5,405.8 522.0,405.7 522.5,403.8 523.0,403.5 523.5,406.2 524.0,407.8 524.5,407.5 525.0,404.4 525.5,406.3 526.0,404.8 526.5,403.4 527.0,403.2 527.5,403.1 528.0,406.0 528.5,406.9 529.0,408.1 529.5,409.4 530.0,411.4 530.5,408.0 531.0,404.2 531.5,404.4 532.0,407.4 532.5,406.7 533.0,403.3 533.5,402.4 534.0,401.6 534.5,400.3 535.0,398.9 535.5,399.6 536.0,398.5 536.5,400.3 537.0,403.1 537.5,407.6 538.0,412.0 538.5,408.3 539.0,406.8 539.5,408.1 540.0,409.8 540.5,412.4 541.0,416.4 541.5,412.9 542.0,408.6 542.5,410.2 543.0,414.0 543.5,414.0 544.0,411.8 544.5,412.7 545.0,412.6 545.5,413.9 546.0,415.1 546.5,413.1 547.0,412.2 547.5,411.5 548.0,411.3 548.5,411.5 549.0,413.2 549.5,413.5 550.0,413.2 550.5,412.4 551.0,410.3 551.5,408.9 552.0,409.9 552.5,409.3 553.0,408.3 553.5,411.2 554.0,414.3 554.5,412.6 555.0,409.4 555.5,409.9 556.0,412.5 556.5,415.0 557.0,416.9 557.5,416.8 558.0,414.3 558.5,413.5 559.0,411.6 559.5,411.5 560.0,412.1 560.5,411.2 561.0,411.9 561.5,413.2 562.0,414.8 562.5,414.8 563.0,414.2 563.5,412.3 564.0,413.9 564.5,416.5 565.0,417.7 565.5,412.8 566.0,409.1 566.5,408.7 567.0,408.9 567.5,408.7 568.0,407.8 568.5,409.9 569.0,410.2 569.5,409.7 570.0,409.1 570.5,409.1 571.0,408.8 571.5,408.4 572.0,410.1 572.5,410.6 573.0,409.9 573.5,409.3 574.0,408.2 574.5,405.9 575.0,402.5 575.5,406.4 576.0,410.2 576.5,407.5 577.0,403.9 577.5,405.5 578.0,406.2 578.5,407.2 579.0,407.4 579.5,407.8 580.0,405.1 580.5,406.3 581.0,407.2 581.5,409.3 582.0,410.6 582.5,410.0 583.0,409.9 583.5,410.4 584.0,412.1 584.5,411.9 585.0,410.8 585.5,410.0 586.0,411.3 586.5,410.6 587.0,410.5 587.5,410.2 588.0,411.1 588.5,412.1 589.0,413.0 589.5,412.9 590.0,412.3 590.5,409.9 591.0,408.3 591.5,410.4 592.0,411.1 592.5,412.5 593.0,411.5 593.5,413.3 594.0,412.8 594.5,412.4 595.0,410.9 595.5,409.9 596.0,409.7 596.5,407.5 597.0,409.0 597.5,410.9 598.0,414.6 598.5,413.2 599.0,407.7 599.5,407.6 600.0,407.2 600.5,408.3 601.0,409.8 601.5,407.9 602.0,406.2 602.5,408.9 603.0,413.4 603.5,411.6 604.0,411.2 604.5,411.1 605.0,410.7 605.5,409.7 606.0,407.5 606.5,408.3 607.0,407.8 607.5,409.5 608.0,411.4 608.5,412.4 609.0,412.8 609.5,414.5 610.0,416.3 610.5,415.6 611.0,411.5 611.5,407.8 612.0,404.1 612.5,406.1 613.0,408.8 613.5,407.3 614.0,407.1 614.5,408.7 615.0,410.1 615.5,410.2 616.0,408.1 616.5,408.6 617.0,410.0 617.5,408.4 618.0,407.2 618.5,408.5 619.0,410.0 619.5,410.9 620.0,412.1 620.5,409.2 621.0,406.2 621.5,404.3 622.0,404.3 622.5,405.2 623.0,408.1 623.5,410.9 624.0,413.8 624.5,413.3 625.0,412.2 625.5,409.6 626.0,409.7 626.5,408.1 627.0,408.9 627.5,411.5 628.0,414.1 628.5,412.4 629.0,411.9 629.5,412.6 630.0,411.5 630.5,410.2 631.0,408.7 631.5,409.5 632.0,408.5 632.5,408.9 633.0,409.1 633.5,410.1 634.0,410.7 634.5,411.5 635.0,411.7 635.5,408.1 636.0,402.6 636.5,403.6 637.0,403.2 637.5,404.9 638.0,406.8 638.5,406.6 639.0,406.3 639.5,404.7 640.0,404.2 640.5,404.8 641.0,405.9 641.5,406.3 642.0,407.7 642.5,407.9 643.0,407.9 643.5,407.9 644.0,408.3 644.5,408.9 645.0,410.0 645.5,410.9 646.0,412.0 646.5,412.4 647.0,412.8 647.5,413.3 648.0,411.8 648.5,411.0 649.0,411.0 649.5,410.0 650.0,408.3 650.5,408.2 651.0,409.1 651.5,410.6 652.0,413.0 652.5,410.7 653.0,410.3 653.5,410.3 654.0,411.2 654.5,410.6 655.0,409.7 655.5,408.4 656.0,407.8 656.5,409.0 657.0,407.8 657.5,404.8 658.0,403.5 658.5,404.8 659.0,406.5 659.5,405.1 660.0,405.6 660.5,407.8 661.0,408.6 661.5,408.1 662.0,405.8 662.5,407.0 663.0,408.6 663.5,407.4 664.0,406.0 664.5,407.1 665.0,408.5 665.5,408.5 666.0,409.6 666.5,409.0 667.0,408.8 667.5,408.2 668.0,408.2 668.5,407.9 669.0,407.8 669.5,408.3 670.0,408.9 670.5,406.5 671.0,406.3 671.5,407.4 672.0,406.7 672.5,406.6 673.0,405.0 673.5,403.4 674.0,404.0 674.5,405.2 675.0,406.6 675.5,406.5 676.0,406.6 676.5,404.4 677.0,403.2 677.5,404.1 678.0,406.2 678.5,406.2 679.0,402.8 679.5,402.4 680.0,403.5 680.5,403.4 681.0,403.1 681.5,400.6 682.0,396.9 682.5,399.2 683.0,400.8 683.5,399.5 684.0,397.9 684.5,399.2 685.0,401.0 685.5,402.3 686.0,405.1 686.5,405.9 687.0,407.3 687.5,405.8 688.0,404.2 688.5,402.4 689.0,399.9 689.5,399.8 690.0,402.8 690.5,403.8 691.0,405.7 691.5,405.8 692.0,403.6 692.5,404.6 693.0,405.5 693.5,403.4 694.0,399.2 694.5,398.9 695.0,399.6 695.5,396.7 696.0,396.5 696.5,397.4 697.0,398.5 697.5,402.5 698.0,403.6 698.5,400.8 699.0,397.8 699.5,400.2 700.0,403.1 700.5,402.8 701.0,402.0 701.5,404.3 702.0,403.4 702.5,404.0 703.0,402.1 703.5,402.1 704.0,404.6 704.5,406.1 705.0,409.0 705.5,405.4 706.0,401.7 706.5,403.2 707.0,405.8 707.5,406.9 708.0,409.0 708.5,407.3 709.0,406.6 709.5,406.7 710.0,408.1 710.5,403.8 711.0,398.8 711.5,400.2 712.0,405.3 712.5,404.0 713.0,402.5 713.5,402.9 714.0,403.2 714.5,405.1 715.0,405.5 715.5,407.5 716.0,407.2 716.5,408.0 717.0,405.7 717.5,406.9 718.0,410.2 718.5,409.7 719.0,406.5 719.5,408.3 720.0,412.9 720.5,411.2 721.0,409.0 721.5,407.4 722.0,405.3 722.5,406.4 723.0,405.5 723.5,406.1 724.0,405.7 724.5,408.3 725.0,409.6 725.5,410.6 726.0,413.0 726.5,414.5 727.0,416.0 727.5,415.2 728.0,414.4 728.5,411.9 729.0,408.8 729.5,408.1 730.0,407.0 730.5,408.8 731.0,412.2 731.5,410.5 732.0,410.0 732.5,411.7 733.0,412.6 733.5,411.2 734.0,413.2 734.5,415.6 735.0,418.8 735.5,413.3 736.0,409.1 736.5,412.0 737.0,413.4 737.5,416.5 738.0,418.6 738.5,415.6 739.0,412.6 739.5,412.0 740.0,413.0 740.5,416.4 741.0,416.7 741.5,411.1 742.0,407.5 742.5,408.8 743.0,409.6 743.5,410.6 744.0,411.5 744.5,413.4 745.0,414.6 745.5,417.0 746.0,416.6 746.5,417.0 747.0,415.6 747.5,417.2 748.0,422.2 748.5,419.5 749.0,415.4 749.5,416.6 750.0,416.6 750.5,417.8 751.0,416.1 751.5,419.3 752.0,420.3 752.5,419.1 753.0,418.6 753.5,418.0 754.0,418.2 754.5,419.9 755.0,422.0 755.5,423.1 756.0,422.2 756.5,422.7 757.0,420.2 757.5,418.3 758.0,414.9 758.5,415.3 759.0,415.4 759.5,416.6 760.0,418.8 760.5,418.6 761.0,418.5 761.5,418.3 762.0,418.4 762.5,419.1 763.0,420.3 763.5,421.0 764.0,422.1 764.5,420.3 765.0,418.2 765.5,419.0 766.0,421.2 766.5,420.3 767.0,419.5 767.5,420.1 768.0,419.8 768.5,420.1 769.0,420.5 769.5,422.4 770.0,424.5 770.5,423.4 771.0,422.7 771.5,421.2 772.0,420.6 772.5,421.9 773.0,424.7 773.5,423.2 774.0,423.2 774.5,424.3 775.0,423.4 775.5,422.9 776.0,422.1 776.5,424.3 777.0,426.5 777.5,424.6 778.0,425.6 778.5,423.3 779.0,421.6 779.5,420.0 780.0,418.9 780.5,419.0 781.0,420.1 781.5,421.8 782.0,424.0 782.5,422.3 783.0,422.2 783.5,422.5 784.0,422.4 784.5,422.7 785.0,424.1 785.5,424.6 786.0,426.3 786.5,427.0 787.0,428.3 787.5,425.2 788.0,423.5 788.5,425.0 789.0,428.1 789.5,426.3 790.0,424.2 790.5,425.2 791.0,426.0 791.5,424.5 792.0,422.7 792.5,421.8 793.0,420.3 793.5,423.3 794.0,425.8 794.5,428.1 795.0,428.7 795.5,426.0 796.0,424.4 796.5,423.5 797.0,425.8 797.5,427.5 798.0,428.7 798.5,429.1 799.0,430.1 799.5,427.8 800.0,425.5 800.5,427.2 801.0,428.5 801.5,430.5 802.0,431.6 802.5,432.9 803.0,433.4 803.5,432.5 804.0,429.8 804.5,430.7 805.0,432.3 805.5,431.0 806.0,429.2 806.5,429.0 807.0,429.2 807.5,427.6 808.0,428.0 808.5,427.0 809.0,427.5 809.5,426.9 810.0,425.9 810.5,427.2 811.0,428.5 811.5,429.2 812.0,430.1 812.5,429.4 813.0,427.3 813.5,428.1 814.0,428.3 814.5,427.0 815.0,425.1 815.5,426.2 816.0,426.1 816.5,423.0 817.0,420.1 817.5,420.5 818.0,422.8 818.5,425.8 819.0,426.7 819.5,424.6 820.0,423.2 820.5,427.0 821.0,430.4 821.5,429.1 822.0,428.3 822.5,428.3 823.0,426.6 823.5,427.8 824.0,429.7 824.5,426.8 825.0,425.8 825.5,427.5 826.0,428.2 826.5,429.7 827.0,429.8 827.5,429.3 828.0,427.9 828.5,429.3 829.0,434.9 829.5,433.3 830.0,430.6 830.5,431.9 831.0,434.5 831.5,433.8 832.0,431.9 832.5,432.5 833.0,432.3 833.5,431.4 834.0,429.8 834.5,431.8 835.0,431.8 835.5,431.7 836.0,433.0 836.5,433.9 837.0,435.3 837.5,436.0 838.0,438.2 838.5,435.7 839.0,433.2 839.5,434.3 840.0,435.2 840.5,435.4 841.0,436.9 841.5,437.0 842.0,436.3 842.5,435.5 843.0,434.2 843.5,434.1 844.0,432.8 844.5,432.2 845.0,431.9 845.5,432.9 846.0,432.4 846.5,432.6 847.0,433.1 847.5,431.8 848.0,431.1 848.5,431.2 849.0,431.7 849.5,433.2 850.0,434.4 850.5,433.6 851.0,433.2 851.5,432.8 852.0,431.6 852.5,434.6 853.0,435.3 853.5,435.5 854.0,435.7 854.5,434.7 855.0,436.6 855.5,435.4 856.0,436.1 856.5,434.5 857.0,432.3 857.5,432.3 858.0,433.1 858.5,432.7 859.0,432.3 859.5,433.4 860.0,431.4 860.5,429.2 861.0,427.9 861.5,428.9 862.0,431.1 862.5,432.3 863.0,432.4 863.5,432.4 864.0,431.3 864.5,430.0 865.0,430.3 865.5,430.1 866.0,430.8 866.5,429.2 867.0,426.7 867.5,426.9 868.0,427.5 868.5,426.2 869.0,424.1 869.5,428.0 870.0,431.7 870.5,435.6 871.0,437.3 871.5,438.6 872.0,437.8 872.5,434.5 873.0,432.0 873.5,433.2 874.0,436.2 874.5,437.2 875.0,437.7 875.5,436.8 876.0,434.0 876.5,430.5 877.0,430.0 877.5,433.9 878.0,437.3 878.5,435.3 879.0,433.2 879.5,433.9 880.0,433.4 880.5,437.3 881.0,439.8 881.5,437.4 882.0,437.3 882.5,437.4 883.0,439.0 883.5,439.8 884.0,439.9 884.5,438.2 885.0,435.5 885.5,435.4 886.0,434.1 886.5,436.3 887.0,438.0 887.5,438.7 888.0,437.8 888.5,438.2 889.0,439.2 889.5,439.1 890.0,439.5 890.5,438.0 891.0,436.3 891.5,437.0 892.0,437.3 892.5,436.9 893.0,435.7 893.5,436.8 894.0,436.1 894.5,436.1 895.0,436.0 895.5,435.9 896.0,435.7 896.5,437.0 897.0,437.1 897.5,436.6 898.0,436.7 898.5,438.9 899.0,441.2 899.5,441.7 900.0,439.8 900.5,445.0 901.0,448.8 901.5,446.4 902.0,443.2 902.5,442.0 903.0,443.7 903.5,445.2 904.0,446.2 904.5,444.9 905.0,442.8 905.5,441.7 906.0,440.6 906.5,439.9 907.0,438.7 907.5,441.8 908.0,443.7 908.5,444.0 909.0,443.6 909.5,444.0 910.0,444.8 910.5,443.7 911.0,442.1 911.5,442.4 912.0,441.6 912.5,441.8 913.0,444.1 913.5,444.6 914.0,446.7 914.5,444.0 915.0,441.9 915.5,444.4 916.0,451.5 916.5,448.6 917.0,443.0 917.5,443.3 918.0,446.8 918.5,446.9 919.0,446.8 919.5,446.4 920.0,446.3 920.5,444.0 921.0,442.3 921.5,443.3 922.0,444.4 922.5,444.9 923.0,445.4 923.5,442.1 924.0,436.4 924.5,437.4 925.0,441.9 925.5,441.0 926.0,440.0 926.5,440.0 927.0,439.3 927.5,439.5 928.0,441.6 928.5,441.9 929.0,441.3 929.5,442.5 930.0,441.9 930.5,439.2 931.0,439.0 931.5,441.4 932.0,440.8 932.5,436.0 933.0,435.5 933.5,437.1 934.0,437.0 934.5,438.1 935.0,437.5 935.5,439.8 936.0,441.1 936.5,439.3 937.0,440.0 937.5,441.3 938.0,442.4 938.5,441.5 939.0,438.7 939.5,439.8 940.0,442.2 940.5,442.8 941.0,441.8 941.5,439.9 942.0,438.4 942.5,437.0 943.0,435.5 943.5,435.8 944.0,435.9 944.5,434.9 945.0,435.6 945.5,437.4 946.0,441.0 946.5,443.2 947.0,442.0 947.5,439.6 948.0,437.1 948.5,441.0 949.0,444.6 949.5,441.1 950.0,436.8 950.5,433.5 951.0,434.7 951.5,440.2 952.0,442.3 952.5,442.4 953.0,443.1 953.5,441.2 954.0,439.0 954.5,438.2 955.0,437.2 955.5,437.5 956.0,440.3 956.5,439.4 957.0,437.3 957.5,437.9 958.0,438.5 958.5,439.4 959.0,438.8 959.5,438.9 960.0,439.5 960.5,437.2 961.0,436.9 961.5,436.2 962.0,435.8 962.5,436.7 963.0,440.6 963.5,436.1 964.0,433.2 964.5,435.3 965.0,438.5 965.5,439.8 966.0,440.5 966.5,439.7 967.0,440.5 967.5,438.9 968.0,439.0 968.5,439.6 969.0,439.5 969.5,440.8 970.0,440.7 970.5,439.5 971.0,438.3 971.5,438.4 972.0,440.6 972.5,440.4 973.0,442.6 973.5,439.7 974.0,438.1 974.5,438.5 975.0,439.8 975.5,442.0 976.0,445.6 976.5,446.6 977.0,447.5 977.5,444.5 978.0,443.4 978.5,445.6 979.0,448.4 979.5,447.1 980.0,447.5 980.5,449.5 981.0,451.5 981.5,451.2 982.0,452.4 982.5,447.6 983.0,443.1 983.5,446.1 984.0,449.7 984.5,451.9 985.0,454.5 985.5,454.9 986.0,457.1 986.5,452.6 987.0,450.5 987.5,449.7 988.0,450.9 988.5,452.6 989.0,453.9 989.5,453.4 990.0,453.5 990.5,453.5 991.0,455.0 991.5,453.3 992.0,452.9 992.5,456.9 993.0,458.5 993.5,458.9 994.0,459.0 994.5,457.3 995.0,457.9 995.5,455.9 996.0,455.1 996.5,454.5 997.0,453.5 997.5,456.0 998.0,456.9 998.5,459.7 999.0,460.7 999.5,461.4 1000.0,458.8 1000.5,460.2 1001.0,465.2 1001.5,466.9 1002.0,466.3 1002.5,464.2 1003.0,461.1 1003.5,463.2 1004.0,463.7 1004.5,464.6 1005.0,468.2 1005.5,467.2 1006.0,467.9 1006.5,467.8 1007.0,465.3 1007.5,465.6 1008.0,467.5 1008.5,467.3 1009.0,468.1 1009.5,468.3 1010.0,468.4 1010.5,469.7 1011.0,470.4 1011.5,470.7 1012.0,471.3 1012.5,472.9 1013.0,473.5" stroke="#008080"/>
<path d="M141.0,281.0 141.5,278.2 142.0,277.0 142.5,279.5 143.0,280.3 143.5,281.3 144.0,281.2 144.5,283.6 145.0,286.3 145.5,284.5 146.0,282.7 146.5,281.7 147.0,282.2 147.5,282.1 148.0,282.5 148.5,281.2 149.0,281.3 149.5,279.8 150.0,277.3 150.5,274.9 151.0,273.0 151.5,274.0 152.0,274.5 152.5,275.2 153.0,277.2 153.5,278.8 154.0,279.0 154.5,279.2 155.0,279.4 155.5,280.8 156.0,281.1 156.5,281.8 157.0,282.4 157.5,282.9 158.0,281.3 158.5,280.8 159.0,281.2 159.5,278.2 160.0,277.1 160.5,277.4 161.0,278.2 161.5,275.0 162.0,274.6 162.5,277.0 163.0,277.8 163.5,276.0 164.0,273.9 164.5,273.3 165.0,273.3 165.5,275.5 166.0,276.9 166.5,276.6 167.0,275.0 167.5,272.5 168.0,272.6 168.5,272.9 169.0,271.6 169.5,268.8 170.0,266.8 170.5,266.9 171.0,268.3 171.5,265.1 172.0,263.5 172.5,265.1 173.0,265.9 173.5,267.9 174.0,267.4 174.5,265.7 175.0,263.2 175.5,261.6 176.0,262.0 176.5,260.8 177.0,259.0 177.5,259.2 178.0,259.8 178.5,259.3 179.0,259.3 179.5,258.9 180.0,259.6 180.5,258.8 181.0,258.8 181.5,258.3 182.0,257.0 182.5,258.3 183.0,259.8 183.5,261.2 184.0,264.0 184.5,264.5 185.0,264.1 185.5,267.2 186.0,268.0 186.5,266.3 187.0,263.8 187.5,261.7 188.0,260.1 188.5,257.9 189.0,259.0 189.5,262.4 190.0,266.5 190.5,267.9 191.0,266.5 191.5,264.2 192.0,262.8 192.5,265.4 193.0,267.0 193.5,265.7 194.0,263.5 194.5,261.8 195.0,260.9 195.5,258.3 196.0,258.9 196.5,262.9 197.0,264.7 197.5,262.7 198.0,262.8 198.5,262.2 199.0,262.8 199.5,262.8 200.0,264.2 200.5,264.4 201.0,266.7 201.5,269.5 202.0,274.1 202.5,274.7 203.0,275.4 203.5,277.1 204.0,277.3 204.5,277.2 205.0,275.5 205.5,274.3 206.0,273.1 206.5,273.8 207.0,274.3 207.5,274.0 208.0,272.6 208.5,271.3 209.0,269.8 209.5,270.2 210.0,272.7 210.5,273.0 211.0,273.0 211.5,271.0 212.0,270.4 212.5,268.5 213.0,268.0 213.5,265.9 214.0,264.2 214.5,266.3 215.0,266.8 215.5,265.4 216.0,260.5 216.5,258.9 217.0,259.2 217.5,260.2 218.0,260.8 218.5,260.9 219.0,263.0 219.5,262.9 220.0,263.1 220.5,260.4 221.0,259.2 221.5,260.9 222.0,260.5 222.5,259.4 223.0,258.1 223.5,259.2 224.0,261.6 224.5,264.5 225.0,267.2 225.5,264.1 226.0,261.8 226.5,259.2 227.0,258.0 227.5,256.7 228.0,254.5 228.5,254.5 229.0,255.7 229.5,254.7 230.0,252.4 230.5,250.8 231.0,251.2 231.5,254.6 232.0,256.0 232.5,256.5 233.0,256.9 233.5,257.1 234.0,256.7 234.5,256.4 235.0,257.8 235.5,254.8 236.0,252.6 236.5,256.6 237.0,260.3 237.5,258.0 238.0,254.7 238.5,256.1 239.0,258.2 239.5,258.5 240.0,256.8 240.5,257.2 241.0,256.6 241.5,256.5 242.0,256.1 242.5,252.9 243.0,249.5 243.5,247.6 244.0,245.8 244.5,242.5 245.0,240.3 245.5,241.7 246.0,241.7 246.5,239.7 247.0,238.4 247.5,236.8 248.0,236.6 248.5,235.8 249.0,237.3 249.5,238.3 250.0,238.0 250.5,236.2 251.0,233.1 251.5,233.7 252.0,231.3 252.5,230.8 253.0,231.3 253.5,228.5 254.0,224.9 254.5,223.4 255.0,221.2 255.5,222.8 256.0,225.5 256.5,223.4 257.0,219.4 257.5,219.7 258.0,217.5 258.5,211.2 259.0,203.9 259.5,205.1 260.0,206.3 260.5,201.7 261.0,196.1 261.5,197.3 262.0,198.6 262.5,191.9 263.0,186.1 263.5,184.0 264.0,183.1 264.5,181.8 265.0,180.6 265.5,178.4 266.0,177.0 266.5,173.7 267.0,172.1 267.5,172.7 268.0,172.9 268.5,171.6 269.0,169.3 269.5,166.9 270.0,166.1 270.5,162.4 271.0,160.0 271.5,156.8 272.0,152.7 272.5,151.7 273.0,150.5 273.5,151.8 274.0,149.4 274.5,145.9 275.0,141.5 275.5,144.5 276.0,146.9 276.5,144.4 277.0,140.7 277.5,137.4 278.0,133.2 278.5,133.8 279.0,137.4 279.5,137.1 280.0,137.1 280.5,139.0 281.0,141.3 281.5,141.5 282.0,141.5 282.5,143.0 283.0,146.1 283.5,144.3 284.0,140.3 284.5,136.7 285.0,134.1 285.5,132.9 286.0,134.2 286.5,134.9 287.0,136.3 287.5,142.4 288.0,147.8 288.5,150.7 289.0,153.7 289.5,151.5 290.0,152.9 290.5,153.3 291.0,158.6 291.5,165.8 292.0,170.7 292.5,172.9 293.0,175.2 293.5,176.0 294.0,176.6 294.5,181.2 295.0,184.2 295.5,185.4 296.0,186.6 296.5,186.3 297.0,188.4 297.5,191.5 298.0,193.8 298.5,193.8 299.0,192.7 299.5,192.2 300.0,195.1 300.5,200.2 301.0,204.2 301.5,211.3 302.0,218.2 302.5,220.8 303.0,224.3 303.5,226.0 304.0,227.0 304.5,228.0 305.0,228.3 305.5,228.9 306.0,230.1 306.5,231.8 307.0,235.7 307.5,236.5 308.0,238.1 308.5,240.6 309.0,241.7 309.5,242.4 310.0,242.5 310.5,245.1 311.0,245.8 311.5,248.3 312.0,248.7 312.5,252.8 313.0,257.7 313.5,258.8 314.0,260.7 314.5,260.0 315.0,260.1 315.5,262.7 316.0,264.7 316.5,266.8 317.0,267.3 317.5,267.7 318.0,268.2 318.5,270.4 319.0,272.1 319.5,273.5 320.0,275.7 320.5,274.9 321.0,272.7 321.5,274.9 322.0,278.2 322.5,276.3 323.0,274.4 323.5,273.7 324.0,275.4 324.5,274.1 325.0,273.8 325.5,272.6 326.0,272.2 326.5,272.7 327.0,276.9 327.5,275.7 328.0,276.8 328.5,275.3 329.0,275.4 329.5,276.2 330.0,277.3 330.5,277.9 331.0,278.3 331.5,278.8 332.0,279.1 332.5,278.4 333.0,280.5 333.5,281.5 334.0,282.0 334.5,285.2 335.0,286.3 335.5,286.3 336.0,286.4 336.5,286.5 337.0,287.3 337.5,288.8 338.0,292.4 338.5,292.0 339.0,292.2 339.5,291.1 340.0,292.3 340.5,291.0 341.0,289.4 341.5,288.5 342.0,286.9 342.5,285.5 343.0,284.9 343.5,284.6 344.0,285.2 344.5,285.2 345.0,285.3 345.5,282.1 346.0,279.1 346.5,281.8 347.0,284.5 347.5,287.2 348.0,288.8 348.5,288.4 349.0,286.7 349.5,286.0 350.0,285.7 350.5,284.9 351.0,284.9 351.5,286.1 352.0,289.0 352.5,290.5 353.0,291.5 353.5,292.0 354.0,292.1 354.5,293.1 355.0,293.8 355.5,293.5 356.0,291.9 356.5,291.8 357.0,293.8 357.5,293.9 358.0,295.9 358.5,295.3 359.0,294.1 359.5,295.7 360.0,296.7 360.5,297.3 361.0,297.5 361.5,297.3 362.0,296.1 362.5,296.3 363.0,295.3 363.5,295.8 364.0,296.9 364.5,299.7 365.0,300.4 365.5,298.4 366.0,297.3 366.5,298.9 367.0,300.7 367.5,300.1 368.0,300.5 368.5,303.0 369.0,305.9 369.5,305.0 370.0,300.5 370.5,299.7 371.0,301.7 371.5,299.7 372.0,297.6 372.5,301.1 373.0,306.1 373.5,299.8 374.0,295.3 374.5,297.5 375.0,298.8 375.5,296.6 376.0,294.1 376.5,296.1 377.0,297.0 377.5,297.0 378.0,294.5 378.5,295.9 379.0,297.7 379.5,295.6 380.0,295.9 380.5,296.9 381.0,299.9 381.5,300.2 382.0,303.2 382.5,304.3 383.0,307.4 383.5,303.1 384.0,297.7 384.5,302.0 385.0,304.1 385.5,302.0 386.0,301.1 386.5,299.8 387.0,299.6 387.5,298.1 388.0,300.1 388.5,299.7 389.0,300.2 389.5,298.6 390.0,297.9 390.5,297.7 391.0,296.6 391.5,295.9 392.0,296.0 392.5,295.8 393.0,296.5 393.5,297.3 394.0,298.3 394.5,297.2 395.0,295.3 395.5,295.3 396.0,296.5 396.5,297.5 397.0,298.2 397.5,298.4 398.0,298.5 398.5,300.9 399.0,300.5 399.5,299.9 400.0,299.5 400.5,297.1 401.0,297.2 401.5,301.1 402.0,304.5 402.5,305.0 403.0,305.3 403.5,305.8 404.0,304.5 404.5,303.7 405.0,303.7 405.5,304.4 406.0,304.3 406.5,303.3 407.0,301.2 407.5,300.0 408.0,299.4 408.5,299.2 409.0,300.4 409.5,300.7 410.0,299.9 410.5,302.0 411.0,304.0 411.5,303.5 412.0,302.9 412.5,301.5 413.0,301.8 413.5,299.9 414.0,300.5 414.5,300.7 415.0,300.9 415.5,301.0 416.0,302.0 416.5,302.7 417.0,303.6 417.5,303.7 418.0,300.9 418.5,301.6 419.0,303.6 419.5,303.3 420.0,300.7 420.5,298.6 421.0,300.2 421.5,302.8 422.0,304.9 422.5,305.1 423.0,304.6 423.5,304.5 424.0,303.7 424.5,302.9 425.0,305.8 425.5,304.7 426.0,304.5 426.5,305.9 427.0,307.0 427.5,307.7 428.0,308.5 428.5,310.5 429.0,309.3 429.5,307.5 430.0,302.5 430.5,298.4 431.0,296.5 431.5,298.3 432.0,299.5 432.5,297.9 433.0,296.3 433.5,298.9 434.0,299.8 434.5,298.3 435.0,298.1 435.5,298.0 436.0,298.3 436.5,297.8 437.0,298.2 437.5,295.3 438.0,293.1 438.5,292.7 439.0,292.7 439.5,291.5 440.0,291.3 440.5,290.7 441.0,291.3 441.5,291.5 442.0,290.3 442.5,288.2 443.0,285.7 443.5,284.9 444.0,285.2 444.5,284.9 445.0,283.9 445.5,283.8 446.0,283.1 446.5,283.7 447.0,284.0 447.5,283.8 448.0,283.1 448.5,282.0 449.0,279.7 449.5,275.1 450.0,268.8 450.5,267.3 451.0,267.5 451.5,267.3 452.0,267.1 452.5,267.3 453.0,267.0 453.5,265.9 454.0,264.7 454.5,263.2 455.0,260.8 455.5,260.8 456.0,260.7 456.5,257.3 457.0,257.3 457.5,258.1 458.0,259.5 458.5,259.3 459.0,261.2 459.5,261.5 460.0,259.4 460.5,265.2 461.0,266.3 461.5,265.7 462.0,263.4 462.5,264.4 463.0,264.8 463.5,267.7 464.0,270.3 464.5,267.6 465.0,268.3 465.5,270.3 466.0,273.5 466.5,275.3 467.0,276.6 467.5,279.6 468.0,282.5 468.5,286.0 469.0,288.5 469.5,284.9 470.0,282.5 470.5,279.4 471.0,280.0 471.5,282.2 472.0,285.0 472.5,286.6 473.0,285.8 473.5,285.8 474.0,286.9 474.5,289.4 475.0,293.4 475.5,295.3 476.0,298.5 476.5,298.8 477.0,297.7 477.5,297.7 478.0,296.1 478.5,298.0 479.0,299.4 479.5,298.2 480.0,296.7 480.5,298.7 481.0,299.9 481.5,301.2 482.0,302.2 482.5,305.5 483.0,308.3 483.5,304.2 484.0,303.1 484.5,303.9 485.0,305.5 485.5,308.6 486.0,311.8 486.5,314.2 487.0,315.6 487.5,314.8 488.0,314.7 488.5,317.3 489.0,316.7 489.5,317.4 490.0,317.1 490.5,317.2 491.0,315.3 491.5,313.7 492.0,314.0 492.5,312.2 493.0,311.2 493.5,311.5 494.0,310.4 494.5,312.6 495.0,316.1 495.5,317.5 496.0,317.4 496.5,317.2 497.0,317.6 497.5,317.9 498.0,319.3 498.5,320.5 499.0,320.1 499.5,320.2 500.0,320.5 500.5,321.6 501.0,321.8 501.5,322.7 502.0,322.7 502.5,322.1 503.0,320.7 503.5,326.0 504.0,330.8 504.5,328.1 505.0,327.1 505.5,329.4 506.0,331.0 506.5,327.9 507.0,327.0 507.5,328.0 508.0,329.2 508.5,327.8 509.0,325.1 509.5,327.8 510.0,328.7 510.5,328.8 511.0,328.0 511.5,326.6 512.0,326.7 512.5,326.1 513.0,323.8 513.5,324.4 514.0,326.6 514.5,328.7 515.0,330.8 515.5,327.4 516.0,325.5 516.5,328.3 517.0,329.7 517.5,328.8 518.0,330.2 518.5,331.7 519.0,332.9 519.5,333.6 520.0,335.8 520.5,336.7 521.0,335.8 521.5,334.1 522.0,335.1 522.5,335.7 523.0,337.4 523.5,335.2 524.0,333.8 524.5,331.6 525.0,334.2 525.5,332.5 526.0,333.8 526.5,334.8 527.0,335.4 527.5,334.5 528.0,333.7 528.5,331.9 529.0,332.4 529.5,334.6 530.0,334.7 530.5,336.9 531.0,338.7 531.5,337.2 532.0,334.7 532.5,334.0 533.0,334.8 533.5,333.4 534.0,332.0 534.5,335.2 535.0,334.7 535.5,333.6 536.0,332.5 536.5,334.3 537.0,335.1 537.5,338.0 538.0,338.5 538.5,336.7 539.0,335.7 539.5,334.9 540.0,332.7 540.5,334.8 541.0,335.8 541.5,332.3 542.0,330.1 542.5,332.4 543.0,336.9 543.5,335.7 544.0,333.7 544.5,331.3 545.0,330.8 545.5,331.4 546.0,331.5 546.5,332.1 547.0,330.5 547.5,333.8 548.0,337.3 548.5,336.9 549.0,335.1 549.5,332.4 550.0,331.6 550.5,331.9 551.0,332.1 551.5,333.2 552.0,335.2 552.5,334.1 553.0,334.1 553.5,334.6 554.0,333.8 554.5,334.9 555.0,335.1 555.5,333.2 556.0,331.2 556.5,333.2 557.0,336.1 557.5,336.6 558.0,338.7 558.5,336.7 559.0,334.8 559.5,335.7 560.0,335.2 560.5,334.6 561.0,332.4 561.5,332.5 562.0,332.6 562.5,332.3 563.0,333.4 563.5,332.4 564.0,332.2 564.5,330.8 565.0,329.7 565.5,334.0 566.0,334.2 566.5,332.7 567.0,331.7 567.5,332.2 568.0,333.6 568.5,333.4 569.0,333.6 569.5,333.3 570.0,333.0 570.5,335.1 571.0,334.7 571.5,334.5 572.0,334.7 572.5,334.8 573.0,332.8 573.5,333.9 574.0,334.7 574.5,334.5 575.0,332.0 575.5,334.1 576.0,334.3 576.5,333.0 577.0,333.0 577.5,332.2 578.0,334.3 578.5,332.5 579.0,331.5 579.5,335.7 580.0,337.4 580.5,336.1 581.0,335.4 581.5,334.9 582.0,333.1 582.5,331.4 583.0,331.8 583.5,333.4 584.0,335.3 584.5,337.3 585.0,340.9 585.5,338.6 586.0,336.8 586.5,338.3 587.0,340.0 587.5,338.8 588.0,335.1 588.5,334.2 589.0,332.7 589.5,329.7 590.0,328.2 590.5,327.7 591.0,329.7 591.5,330.8 592.0,330.6 592.5,331.4 593.0,332.0 593.5,332.1 594.0,332.2 594.5,330.4 595.0,328.8 595.5,328.8 596.0,331.8 596.5,330.2 597.0,329.8 597.5,329.4 598.0,331.4 598.5,332.7 599.0,333.5 599.5,333.5 600.0,333.2 600.5,333.0 601.0,335.3 601.5,333.4 602.0,333.1 602.5,334.6 603.0,336.5 603.5,335.1 604.0,332.9 604.5,334.1 605.0,333.6 605.5,333.3 606.0,334.5 606.5,334.0 607.0,333.2 607.5,332.7 608.0,331.2 608.5,327.8 609.0,328.8 609.5,330.8 610.0,332.6 610.5,330.6 611.0,328.3 611.5,329.1 612.0,330.1 612.5,327.9 613.0,326.4 613.5,328.3 614.0,330.6 614.5,332.0 615.0,331.0 615.5,331.9 616.0,331.7 616.5,331.6 617.0,330.6 617.5,332.0 618.0,331.8 618.5,331.3 619.0,332.1 619.5,331.3 620.0,331.4 620.5,331.9 621.0,333.8 621.5,331.3 622.0,328.2 622.5,327.8 623.0,331.0 623.5,331.5 624.0,330.7 624.5,328.9 625.0,327.3 625.5,328.5 626.0,329.2 626.5,331.8 627.0,334.3 627.5,332.8 628.0,332.2 628.5,330.8 629.0,328.9 629.5,330.1 630.0,332.0 630.5,332.0 631.0,331.5 631.5,328.8 632.0,327.1 632.5,329.0 633.0,329.4 633.5,329.1 634.0,329.5 634.5,329.4 635.0,329.4 635.5,329.2 636.0,329.7 636.5,327.4 637.0,327.5 637.5,327.4 638.0,326.7 638.5,326.4 639.0,325.4 639.5,325.3 640.0,325.3 640.5,325.7 641.0,325.1 641.5,327.0 642.0,326.7 642.5,326.4 643.0,324.8 643.5,324.1 644.0,324.7 644.5,325.2 645.0,327.9 645.5,328.9 646.0,330.8 646.5,329.8 647.0,325.3 647.5,327.2 648.0,328.2 648.5,326.8 649.0,324.4 649.5,326.1 650.0,326.2 650.5,327.1 651.0,328.4 651.5,328.2 652.0,327.7 652.5,329.6 653.0,330.4 653.5,327.0 654.0,325.2 654.5,324.8 655.0,325.6 655.5,325.3 656.0,328.3 656.5,327.8 657.0,326.6 657.5,322.7 658.0,321.0 658.5,321.6 659.0,323.1 659.5,324.8 660.0,324.6 660.5,325.7 661.0,326.2 661.5,323.1 662.0,321.2 662.5,322.2 663.0,323.8 663.5,320.5 664.0,317.9 664.5,320.6 665.0,323.8 665.5,325.4 666.0,324.7 666.5,323.3 667.0,320.1 667.5,319.2 668.0,319.5 668.5,318.5 669.0,317.0 669.5,318.8 670.0,320.0 670.5,320.8 671.0,322.1 671.5,322.3 672.0,321.4 672.5,321.2 673.0,321.5 673.5,319.1 674.0,315.8 674.5,316.8 675.0,318.1 675.5,320.5 676.0,323.5 676.5,320.3 677.0,318.3 677.5,317.5 678.0,317.3 678.5,316.8 679.0,318.5 679.5,317.5 680.0,315.7 680.5,316.8 681.0,317.0 681.5,316.3 682.0,315.0 682.5,315.2 683.0,314.3 683.5,313.7 684.0,312.4 684.5,315.4 685.0,318.5 685.5,319.4 686.0,318.8 686.5,316.8 687.0,316.8 687.5,316.0 688.0,316.2 688.5,313.7 689.0,313.5 689.5,311.2 690.0,309.7 690.5,311.8 691.0,313.0 691.5,313.4 692.0,312.9 692.5,312.6 693.0,311.3 693.5,309.0 694.0,307.6 694.5,306.9 695.0,305.8 695.5,307.6 696.0,309.8 696.5,308.2 697.0,307.2 697.5,308.4 698.0,307.2 698.5,306.6 699.0,306.9 699.5,307.3 700.0,306.8 700.5,305.9 701.0,305.5 701.5,305.1 702.0,304.2 702.5,303.6 703.0,306.8 703.5,305.9 704.0,306.3 704.5,306.2 705.0,308.0 705.5,307.7 706.0,307.8 706.5,308.8 707.0,309.8 707.5,308.4 708.0,308.8 708.5,312.8 709.0,314.0 709.5,316.1 710.0,320.5 710.5,317.1 711.0,314.9 711.5,317.0 712.0,316.8 712.5,317.6 713.0,317.0 713.5,317.3 714.0,316.0 714.5,315.9 715.0,315.8 715.5,314.8 716.0,311.4 716.5,312.2 717.0,313.3 717.5,316.0 718.0,317.1 718.5,318.1 719.0,316.4 719.5,316.0 720.0,316.8 720.5,318.2 721.0,317.8 721.5,314.3 722.0,311.0 722.5,313.7 723.0,316.1 723.5,314.5 724.0,314.6 724.5,312.4 725.0,310.2 725.5,309.7 726.0,311.0 726.5,311.6 727.0,313.4 727.5,312.5 728.0,312.2 728.5,312.0 729.0,313.8 729.5,314.9 730.0,318.1 730.5,317.8 731.0,317.4 731.5,318.6 732.0,319.7 732.5,321.5 733.0,321.0 733.5,321.3 734.0,322.3 734.5,324.1 735.0,324.8 735.5,328.8 736.0,331.5 736.5,329.4 737.0,327.4 737.5,326.9 738.0,325.1 738.5,327.6 739.0,328.9 739.5,328.9 740.0,330.0 740.5,334.4 741.0,335.8 741.5,329.6 742.0,325.6 742.5,327.3 743.0,326.5 743.5,325.3 744.0,324.9 744.5,325.1 745.0,324.4 745.5,321.1 746.0,317.1 746.5,314.4 747.0,316.3 747.5,319.2 748.0,323.1 748.5,326.8 749.0,329.6 749.5,332.3 750.0,335.4 750.5,334.7 751.0,335.3 751.5,333.7 752.0,333.8 752.5,334.0 753.0,335.1 753.5,334.7 754.0,332.9 754.5,331.6 755.0,332.9 755.5,335.4 756.0,335.0 756.5,333.3 757.0,330.5 757.5,329.2 758.0,328.4 758.5,330.9 759.0,330.4 759.5,331.7 760.0,332.7 760.5,333.0 761.0,332.9 761.5,332.4 762.0,332.9 762.5,334.1 763.0,334.6 763.5,333.5 764.0,332.6 764.5,332.6 765.0,332.8 765.5,335.9 766.0,337.5 766.5,335.7 767.0,336.0 767.5,336.0 768.0,336.8 768.5,337.4 769.0,337.2 769.5,335.7 770.0,338.4 770.5,338.8 771.0,340.5 771.5,335.0 772.0,333.9 772.5,336.6 773.0,338.8 773.5,336.5 774.0,335.2 774.5,335.9 775.0,337.5 775.5,335.3 776.0,333.2 776.5,333.4 777.0,333.2 777.5,333.1 778.0,333.0 778.5,330.7 779.0,329.1 779.5,330.5 780.0,332.1 780.5,335.3 781.0,336.1 781.5,335.0 782.0,334.9 782.5,334.8 783.0,335.1 783.5,334.5 784.0,332.7 784.5,331.3 785.0,333.3 785.5,333.2 786.0,333.4 786.5,331.3 787.0,330.8 787.5,333.2 788.0,334.6 788.5,335.8 789.0,335.2 789.5,336.4 790.0,337.8 790.5,337.9 791.0,336.5 791.5,336.5 792.0,337.3 792.5,333.9 793.0,331.6 793.5,332.1 794.0,331.8 794.5,334.1 795.0,336.5 795.5,334.6 796.0,335.4 796.5,336.4 797.0,337.2 797.5,336.5 798.0,335.5 798.5,339.1 799.0,339.9 799.5,339.7 800.0,338.1 800.5,338.5 801.0,338.8 801.5,339.5 802.0,340.3 802.5,341.0 803.0,338.9 803.5,337.9 804.0,338.4 804.5,341.2 805.0,344.0 805.5,342.3 806.0,341.5 806.5,340.7 807.0,338.1 807.5,338.1 808.0,340.1 808.5,341.3 809.0,342.1 809.5,339.6 810.0,338.2 810.5,335.1 811.0,332.9 811.5,335.8 812.0,342.3 812.5,337.8 813.0,332.2 813.5,331.7 814.0,333.1 814.5,329.3 815.0,328.5 815.5,328.9 816.0,328.3 816.5,331.4 817.0,335.2 817.5,335.4 818.0,334.0 818.5,335.2 819.0,337.3 819.5,339.8 820.0,338.3 820.5,338.6 821.0,339.5 821.5,342.5 822.0,344.3 822.5,344.1 823.0,344.7 823.5,344.9 824.0,345.1 824.5,342.6 825.0,338.0 825.5,338.4 826.0,340.3 826.5,340.3 827.0,342.9 827.5,341.1 828.0,339.9 828.5,338.6 829.0,336.4 829.5,335.6 830.0,334.6 830.5,335.0 831.0,337.3 831.5,336.1 832.0,332.1 832.5,333.4 833.0,336.4 833.5,339.2 834.0,341.1 834.5,338.8 835.0,337.8 835.5,341.2 836.0,344.2 836.5,342.1 837.0,341.8 837.5,341.0 838.0,342.5 838.5,346.6 839.0,347.4 839.5,346.6 840.0,344.4 840.5,342.3 841.0,342.3 841.5,341.6 842.0,342.2 842.5,342.4 843.0,342.0 843.5,339.1 844.0,339.2 844.5,343.9 845.0,345.3 845.5,345.2 846.0,344.6 846.5,343.1 847.0,342.7 847.5,345.3 848.0,346.9 848.5,344.3 849.0,344.3 849.5,340.5 850.0,339.3 850.5,339.3 851.0,340.5 851.5,340.3 852.0,341.0 852.5,341.0 853.0,341.8 853.5,343.5 854.0,344.9 854.5,341.1 855.0,339.0 855.5,338.7 856.0,340.9 856.5,339.6 857.0,340.5 857.5,339.7 858.0,337.6 858.5,337.8 859.0,336.6 859.5,333.7 860.0,333.7 860.5,334.2 861.0,337.6 861.5,340.3 862.0,342.5 862.5,341.5 863.0,339.1 863.5,339.5 864.0,339.1 864.5,339.4 865.0,338.0 865.5,339.3 866.0,340.6 866.5,344.0 867.0,346.6 867.5,342.6 868.0,342.0 868.5,342.0 869.0,341.9 869.5,342.6 870.0,343.7 870.5,342.0 871.0,342.9 871.5,342.3 872.0,342.7 872.5,344.7 873.0,346.2 873.5,346.6 874.0,343.4 874.5,340.6 875.0,338.3 875.5,339.6 876.0,341.2 876.5,340.6 877.0,341.1 877.5,340.1 878.0,339.5 878.5,340.0 879.0,341.1 879.5,338.5 880.0,336.9 880.5,338.3 881.0,339.9 881.5,341.2 882.0,338.2 882.5,339.2 883.0,339.6 883.5,337.3 884.0,337.1 884.5,335.7 885.0,336.4 885.5,337.6 886.0,339.5 886.5,340.4 887.0,342.0 887.5,342.0 888.0,342.8 888.5,342.9 889.0,339.6 889.5,341.8 890.0,344.0 890.5,345.1 891.0,346.0 891.5,346.0 892.0,346.2 892.5,347.3 893.0,347.0 893.5,345.2 894.0,344.7 894.5,345.2 895.0,345.9 895.5,346.3 896.0,345.1 896.5,342.6 897.0,345.4 897.5,346.9 898.0,347.7 898.5,345.1 899.0,342.6 899.5,346.0 900.0,348.2 900.5,351.1 901.0,352.6 901.5,351.1 902.0,349.9 902.5,351.9 903.0,353.9 903.5,350.6 904.0,350.8 904.5,351.8 905.0,352.0 905.5,352.5 906.0,352.5 906.5,353.1 907.0,354.1 907.5,352.4 908.0,352.5 908.5,352.9 909.0,354.2 909.5,354.0 910.0,354.4 910.5,353.9 911.0,353.5 911.5,353.3 912.0,354.0 912.5,356.8 913.0,359.6 913.5,358.1 914.0,357.4 914.5,356.7 915.0,359.4 915.5,360.1 916.0,359.2 916.5,359.6 917.0,361.1 917.5,356.8 918.0,356.5 918.5,353.6 919.0,352.6 919.5,349.7 920.0,348.0 920.5,351.7 921.0,356.2 921.5,356.0 922.0,354.2 922.5,353.5 923.0,353.9 923.5,350.5 924.0,346.8 924.5,348.1 925.0,350.1 925.5,350.7 926.0,351.4 926.5,352.9 927.0,354.7 927.5,354.1 928.0,353.7 928.5,356.5 929.0,357.6 929.5,356.6 930.0,355.8 930.5,355.5 931.0,355.3 931.5,355.0 932.0,354.6 932.5,351.5 933.0,346.8 933.5,346.7 934.0,345.1 934.5,344.5 935.0,346.4 935.5,350.6 936.0,352.8 936.5,352.7 937.0,352.8 937.5,353.0 938.0,351.7 938.5,352.6 939.0,351.8 939.5,353.3 940.0,354.9 940.5,353.9 941.0,352.8 941.5,351.1 942.0,350.1 942.5,349.2 943.0,347.6 943.5,347.6 944.0,345.6 944.5,349.0 945.0,353.0 945.5,351.9 946.0,349.9 946.5,350.6 947.0,350.6 947.5,351.3 948.0,350.0 948.5,351.8 949.0,354.0 949.5,349.0 950.0,346.1 950.5,345.2 951.0,344.7 951.5,343.3 952.0,343.1 952.5,344.1 953.0,342.6 953.5,345.2 954.0,347.9 954.5,348.5 955.0,346.4 955.5,345.1 956.0,346.7 956.5,346.6 957.0,347.7 957.5,346.9 958.0,347.6 958.5,347.3 959.0,346.7 959.5,346.6 960.0,345.8 960.5,347.6 961.0,347.3 961.5,344.5 962.0,343.3 962.5,342.6 963.0,343.2 963.5,345.8 964.0,346.4 964.5,346.3 965.0,346.2 965.5,344.1 966.0,340.3 966.5,343.0 967.0,346.7 967.5,347.5 968.0,347.5 968.5,348.8 969.0,351.0 969.5,350.3 970.0,349.8 970.5,353.3 971.0,357.6 971.5,357.8 972.0,358.2 972.5,354.9 973.0,352.1 973.5,351.4 974.0,350.0 974.5,350.5 975.0,353.5 975.5,353.4 976.0,352.1 976.5,353.6 977.0,355.0 977.5,355.6 978.0,353.3 978.5,352.8 979.0,353.8 979.5,355.5 980.0,358.3 980.5,361.0 981.0,360.9 981.5,361.9 982.0,361.8 982.5,363.2 983.0,364.3 983.5,360.4 984.0,356.7 984.5,357.9 985.0,359.9 985.5,358.2 986.0,359.7 986.5,360.2 987.0,361.5 987.5,360.1 988.0,360.9 988.5,361.4 989.0,361.6 989.5,364.3 990.0,366.6 990.5,367.9 991.0,368.9 991.5,368.3 992.0,369.2 992.5,369.8 993.0,370.0 993.5,371.0 994.0,371.1 994.5,371.9 995.0,372.2 995.5,373.8 996.0,375.5 996.5,377.5 997.0,378.2 997.5,377.5 998.0,374.6 998.5,376.7 999.0,378.8 999.5,377.3 1000.0,375.2 1000.5,381.6 1001.0,384.8 1001.5,381.8 1002.0,380.2 1002.5,380.2 1003.0,381.7 1003.5,383.5 1004.0,385.9 1004.5,384.9 1005.0,385.2 1005.5,386.5 1006.0,387.5 1006.5,389.3 1007.0,388.6 1007.5,387.7 1008.0,386.5 1008.5,389.2 1009.0,390.6 1009.5,388.0 1010.0,387.6 1010.5,387.9 1011.0,390.5 1011.5,391.5 1012.0,391.5 1012.5,387.0 1013.0,384.9" stroke="#f00"/>
<path d="M141.0,208.5 141.5,210.7 142.0,211.8 142.5,210.2 143.0,210.1 143.5,211.7 144.0,212.4 144.5,214.1 145.0,214.0 145.5,214.7 146.0,213.3 146.5,207.9 147.0,206.7 147.5,207.6 148.0,208.6 148.5,206.9 149.0,209.3 149.5,214.3 150.0,216.7 150.5,214.8 151.0,212.2 151.5,211.8 152.0,213.5 152.5,208.5 153.0,203.6 153.5,204.6 154.0,203.6 154.5,202.2 155.0,199.9 155.5,204.2 156.0,209.5 156.5,209.5 157.0,209.6 157.5,208.9 158.0,208.3 158.5,211.4 159.0,211.2 159.5,209.4 160.0,209.3 160.5,213.8 161.0,217.8 161.5,218.8 162.0,216.8 162.5,213.9 163.0,210.9 163.5,210.2 164.0,207.3 164.5,205.3 165.0,201.9 165.5,201.1 166.0,202.3 166.5,203.1 167.0,203.6 167.5,203.6 168.0,202.8 168.5,200.6 169.0,201.6 169.5,206.6 170.0,212.6 170.5,214.5 171.0,208.5 171.5,202.9 172.0,199.4 172.5,190.8 173.0,188.0 173.5,186.0 174.0,187.6 174.5,188.8 175.0,186.4 175.5,186.6 176.0,187.3 176.5,187.1 177.0,187.0 177.5,187.0 178.0,187.4 178.5,186.1 179.0,182.5 179.5,180.0 180.0,179.4 180.5,177.9 181.0,180.8 181.5,178.9 182.0,174.3 182.5,177.4 183.0,180.4 183.5,183.6 184.0,185.1 184.5,188.9 185.0,189.7 185.5,189.2 186.0,186.7 186.5,185.1 187.0,182.9 187.5,182.8 188.0,185.6 188.5,188.3 189.0,192.5 189.5,195.4 190.0,195.1 190.5,191.2 191.0,192.8 191.5,196.1 192.0,198.9 192.5,200.8 193.0,202.4 193.5,202.7 194.0,204.2 194.5,206.9 195.0,208.6 195.5,202.9 196.0,200.7 196.5,196.3 197.0,192.5 197.5,191.5 198.0,188.8 198.5,191.0 199.0,194.3 199.5,191.4 200.0,186.0 200.5,188.2 201.0,190.1 201.5,190.6 202.0,191.4 202.5,193.4 203.0,198.1 203.5,197.0 204.0,198.6 204.5,198.2 205.0,200.3 205.5,203.0 206.0,202.9 206.5,200.7 207.0,195.1 207.5,191.1 208.0,187.1 208.5,189.2 209.0,190.4 209.5,187.7 210.0,181.6 210.5,180.1 211.0,182.0 211.5,185.9 212.0,188.3 212.5,189.6 213.0,186.6 213.5,184.5 214.0,180.6 214.5,181.6 215.0,187.3 215.5,186.4 216.0,185.8 216.5,183.0 217.0,180.8 217.5,180.2 218.0,184.3 218.5,183.7 219.0,184.1 219.5,183.0 220.0,185.0 220.5,187.3 221.0,186.5 221.5,187.3 222.0,186.5 222.5,187.2 223.0,189.7 223.5,186.8 224.0,181.8 224.5,176.4 225.0,172.7 225.5,173.5 226.0,172.9 226.5,175.6 227.0,178.4 227.5,174.7 228.0,173.6 228.5,174.9 229.0,178.9 229.5,177.6 230.0,174.1 230.5,174.9 231.0,176.6 231.5,178.0 232.0,179.7 232.5,180.4 233.0,180.7 233.5,175.7 234.0,172.6 234.5,173.6 235.0,175.1 235.5,176.1 236.0,176.5 236.5,176.3 237.0,174.2 237.5,174.0 238.0,177.8 238.5,170.5 239.0,168.8 239.5,172.8 240.0,175.5 240.5,177.7 241.0,176.9 241.5,175.4 242.0,172.2 242.5,171.9 243.0,170.8 243.5,166.2 244.0,162.0 244.5,165.9 245.0,169.2 245.5,169.4 246.0,166.9 246.5,166.8 247.0,165.2 247.5,163.6 248.0,161.1 248.5,159.1 249.0,160.6 249.5,159.0 250.0,158.2 250.5,153.9 251.0,148.7 251.5,149.9 252.0,151.9 252.5,150.3 253.0,150.1 253.5,149.1 254.0,148.6 254.5,146.8 255.0,146.8 255.5,150.5 256.0,154.5 256.5,152.9 257.0,148.5 257.5,149.3 258.0,149.5 258.5,147.5 259.0,139.3 259.5,133.2 260.0,132.1 260.5,132.4 261.0,129.1 261.5,126.7 262.0,126.4 262.5,128.2 263.0,128.0 263.5,121.8 264.0,117.2 264.5,116.6 265.0,115.7 265.5,111.8 266.0,108.2 266.5,107.8 267.0,107.3 267.5,107.0 268.0,105.1 268.5,103.7 269.0,101.8 269.5,101.2 270.0,97.3 270.5,93.5 271.0,90.0 271.5,87.3 272.0,83.8 272.5,80.8 273.0,77.7 273.5,77.5 274.0,76.0 274.5,75.1 275.0,74.2 275.5,72.1 276.0,70.9 276.5,68.9 277.0,69.1 277.5,68.3 278.0,66.1 278.5,64.3 279.0,60.7 279.5,57.1 280.0,57.7 280.5,64.9 281.0,70.4 281.5,69.3 282.0,65.6 282.5,61.0 283.0,63.1 283.5,67.4 284.0,70.5 284.5,72.2 285.0,73.9 285.5,75.5 286.0,78.7 286.5,76.4 287.0,70.8 287.5,67.0 288.0,62.8 288.5,58.1 289.0,63.9 289.5,67.7 290.0,72.0 290.5,73.8 291.0,74.6 291.5,74.9 292.0,73.9 292.5,75.7 293.0,81.3 293.5,87.9 294.0,91.0 294.5,88.9 295.0,89.2 295.5,90.4 296.0,91.2 296.5,96.1 297.0,98.9 297.5,103.0 298.0,108.7 298.5,110.8 299.0,113.8 299.5,115.2 300.0,117.4 300.5,122.4 301.0,127.0 301.5,130.4 302.0,134.8 302.5,136.0 303.0,138.3 303.5,142.9 304.0,148.4 304.5,149.2 305.0,146.1 305.5,148.0 306.0,149.0 306.5,151.4 307.0,153.7 307.5,152.9 308.0,153.1 308.5,151.5 309.0,152.4 309.5,155.5 310.0,158.9 310.5,161.6 311.0,163.0 311.5,160.5 312.0,159.3 312.5,159.9 313.0,164.8 313.5,165.7 314.0,167.7 314.5,170.0 315.0,172.1 315.5,173.6 316.0,174.2 316.5,176.6 317.0,178.6 317.5,179.6 318.0,180.8 318.5,185.3 319.0,185.3 319.5,182.1 320.0,181.5 320.5,187.0 321.0,194.8 321.5,194.9 322.0,195.5 322.5,195.0 323.0,195.6 323.5,196.5 324.0,199.0 324.5,199.3 325.0,199.2 325.5,199.8 326.0,198.3 326.5,199.8 327.0,203.1 327.5,205.4 328.0,207.8 328.5,206.3 329.0,205.9 329.5,209.6 330.0,211.1 330.5,211.3 331.0,211.4 331.5,213.0 332.0,214.6 332.5,213.8 333.0,215.1 333.5,215.7 334.0,217.8 334.5,219.9 335.0,220.2 335.5,220.0 336.0,223.0 336.5,218.6 337.0,214.7 337.5,210.8 338.0,208.2 338.5,207.7 339.0,208.1 339.5,208.4 340.0,207.3 340.5,205.1 341.0,200.6 341.5,201.1 342.0,208.5 342.5,207.2 343.0,203.8 343.5,204.3 344.0,210.3 344.5,211.2 345.0,211.8 345.5,213.0 346.0,212.9 346.5,218.2 347.0,221.7 347.5,218.3 348.0,213.4 348.5,214.8 349.0,214.6 349.5,215.1 350.0,213.9 350.5,213.6 351.0,213.4 351.5,213.1 352.0,211.5 352.5,209.9 353.0,206.9 353.5,205.9 354.0,207.7 354.5,213.1 355.0,216.2 355.5,214.5 356.0,212.7 356.5,218.8 357.0,222.2 357.5,221.6 358.0,220.1 358.5,221.4 359.0,225.3 359.5,226.8 360.0,223.5 360.5,221.4 361.0,219.2 361.5,221.2 362.0,222.7 362.5,222.2 363.0,223.2 363.5,222.0 364.0,222.2 364.5,219.4 365.0,217.3 365.5,217.0 366.0,218.3 366.5,215.3 367.0,214.3 367.5,212.9 368.0,210.7 368.5,212.3 369.0,214.8 369.5,215.9 370.0,212.2 370.5,215.3 371.0,220.1 371.5,219.5 372.0,218.9 372.5,218.3 373.0,217.8 373.5,218.9 374.0,221.7 374.5,221.6 375.0,223.8 375.5,222.2 376.0,221.4 376.5,226.2 377.0,227.5 377.5,225.8 378.0,224.8 378.5,229.5 379.0,232.3 379.5,232.8 380.0,230.8 380.5,229.0 381.0,226.3 381.5,227.9 382.0,227.0 382.5,228.3 383.0,227.5 383.5,224.7 384.0,223.3 384.5,225.9 385.0,229.3 385.5,230.3 386.0,231.1 386.5,230.0 387.0,228.7 387.5,227.0 388.0,223.8 388.5,227.2 389.0,229.3 389.5,228.0 390.0,225.0 390.5,225.4 391.0,227.5 391.5,228.9 392.0,229.7 392.5,228.6 393.0,224.5 393.5,221.9 394.0,219.3 394.5,219.2 395.0,221.1 395.5,223.3 396.0,224.2 396.5,225.1 397.0,225.2 397.5,223.8 398.0,221.9 398.5,228.2 399.0,233.1 399.5,233.9 400.0,234.8 400.5,233.7 401.0,233.9 401.5,234.2 402.0,233.8 402.5,230.7 403.0,227.5 403.5,226.3 404.0,226.3 404.5,227.0 405.0,229.1 405.5,229.1 406.0,227.3 406.5,228.3 407.0,226.8 407.5,227.2 408.0,228.3 408.5,225.2 409.0,224.2 409.5,225.2 410.0,223.8 410.5,224.3 411.0,224.3 411.5,222.2 412.0,224.0 412.5,223.7 413.0,225.5 413.5,229.5 414.0,232.9 414.5,234.5 415.0,235.2 415.5,236.2 416.0,236.4 416.5,237.6 417.0,235.1 417.5,233.4 418.0,230.2 418.5,230.3 419.0,230.5 419.5,229.1 420.0,228.7 420.5,226.7 421.0,225.6 421.5,223.8 422.0,220.3 422.5,224.1 423.0,232.1 423.5,229.4 424.0,226.9 424.5,220.8 425.0,219.1 425.5,222.6 426.0,227.9 426.5,229.7 427.0,233.3 427.5,233.5 428.0,232.8 428.5,234.1 429.0,238.5 429.5,237.9 430.0,235.9 430.5,238.0 431.0,239.6 431.5,236.8 432.0,234.2 432.5,231.1 433.0,227.8 433.5,225.1 434.0,222.2 434.5,221.7 435.0,221.4 435.5,219.7 436.0,220.6 436.5,219.3 437.0,219.6 437.5,221.9 438.0,223.7 438.5,226.6 439.0,228.1 439.5,229.4 440.0,227.0 440.5,226.0 441.0,225.8 441.5,223.5 442.0,222.7 442.5,221.3 443.0,221.6 443.5,219.0 444.0,215.2 444.5,209.5 445.0,207.1 445.5,209.0 446.0,211.2 446.5,210.8 447.0,209.4 447.5,207.8 448.0,205.3 448.5,202.3 449.0,201.0 449.5,195.2 450.0,189.5 450.5,193.6 451.0,199.9 451.5,203.6 452.0,202.3 452.5,202.0 453.0,201.2 453.5,200.8 454.0,200.0 454.5,198.9 455.0,196.6 455.5,197.1 456.0,197.5 456.5,196.4 457.0,195.1 457.5,196.4 458.0,197.0 458.5,194.6 459.0,192.4 459.5,188.4 460.0,187.0 460.5,187.0 461.0,189.1 461.5,194.3 462.0,200.1 462.5,201.8 463.0,203.2 463.5,200.2 464.0,198.8 464.5,200.3 465.0,202.5 465.5,198.8 466.0,197.4 466.5,196.0 467.0,197.7 467.5,199.6 468.0,202.4 468.5,207.3 469.0,210.8 469.5,211.9 470.0,211.1 470.5,210.2 471.0,209.8 471.5,208.5 472.0,205.4 472.5,207.3 473.0,210.4 473.5,214.1 474.0,217.7 474.5,217.4 475.0,220.2 475.5,225.7 476.0,225.8 476.5,222.7 477.0,219.4 477.5,222.2 478.0,221.6 478.5,223.2 479.0,226.3 479.5,226.3 480.0,225.0 480.5,228.1 481.0,231.0 481.5,231.4 482.0,229.8 482.5,230.7 483.0,235.6 483.5,236.1 484.0,235.8 484.5,240.6 485.0,241.7 485.5,240.1 486.0,236.3 486.5,236.7 487.0,239.9 487.5,241.2 488.0,242.4 488.5,239.8 489.0,238.4 489.5,241.7 490.0,247.1 490.5,247.6 491.0,248.1 491.5,246.1 492.0,244.7 492.5,243.8 493.0,241.3 493.5,241.3 494.0,241.5 494.5,244.9 495.0,246.9 495.5,249.5 496.0,250.9 496.5,250.5 497.0,250.2 497.5,248.3 498.0,243.4 498.5,243.4 499.0,244.2 499.5,244.3 500.0,246.8 500.5,244.7 501.0,241.1 501.5,245.2 502.0,247.0 502.5,248.8 503.0,251.3 503.5,253.3 504.0,254.3 504.5,253.4 505.0,253.2 505.5,253.0 506.0,256.4 506.5,255.9 507.0,254.9 507.5,252.4 508.0,251.8 508.5,250.9 509.0,250.2 509.5,250.6 510.0,251.1 510.5,250.2 511.0,250.0 511.5,249.1 512.0,249.0 512.5,248.7 513.0,248.9 513.5,248.2 514.0,250.8 514.5,251.4 515.0,249.4 515.5,249.4 516.0,249.0 516.5,249.2 517.0,251.6 517.5,253.7 518.0,253.2 518.5,250.5 519.0,249.2 519.5,254.9 520.0,260.0 520.5,262.7 521.0,266.7 521.5,268.4 522.0,269.6 522.5,271.2 523.0,270.3 523.5,269.0 524.0,266.6 524.5,269.6 525.0,270.7 525.5,269.7 526.0,266.3 526.5,260.2 527.0,254.3 527.5,256.5 528.0,259.7 528.5,257.5 529.0,256.2 529.5,253.6 530.0,252.2 530.5,252.4 531.0,250.9 531.5,249.7 532.0,248.6 532.5,248.7 533.0,250.8 533.5,245.7 534.0,244.8 534.5,247.2 535.0,247.9 535.5,252.5 536.0,253.5 536.5,255.2 537.0,258.3 537.5,256.7 538.0,256.8 538.5,262.5 539.0,267.3 539.5,266.1 540.0,263.0 540.5,262.7 541.0,262.4 541.5,261.6 542.0,260.4 542.5,258.4 543.0,256.6 543.5,254.7 544.0,254.2 544.5,253.3 545.0,252.7 545.5,253.0 546.0,253.2 546.5,256.5 547.0,258.1 547.5,257.5 548.0,257.5 548.5,256.7 549.0,258.6 549.5,263.2 550.0,264.5 550.5,259.0 551.0,256.7 551.5,257.4 552.0,256.6 552.5,257.5 553.0,259.8 553.5,261.2 554.0,259.0 554.5,255.9 555.0,253.2 555.5,256.8 556.0,257.5 556.5,254.9 557.0,254.8 557.5,257.4 558.0,260.0 558.5,258.2 559.0,255.9 559.5,256.4 560.0,260.2 560.5,259.8 561.0,259.6 561.5,259.2 562.0,258.9 562.5,258.4 563.0,260.3 563.5,260.5 564.0,260.6 564.5,256.4 565.0,253.8 565.5,258.9 566.0,261.6 566.5,261.0 567.0,261.6 567.5,263.9 568.0,263.7 568.5,260.8 569.0,254.7 569.5,257.1 570.0,257.0 570.5,253.5 571.0,245.1 571.5,249.1 572.0,254.6 572.5,252.3 573.0,251.9 573.5,252.6 574.0,251.3 574.5,252.6 575.0,254.1 575.5,255.1 576.0,255.0 576.5,256.5 577.0,259.0 577.5,259.2 578.0,258.2 578.5,255.9 579.0,252.2 579.5,255.7 580.0,259.0 580.5,260.0 581.0,263.4 581.5,258.4 582.0,255.7 582.5,254.9 583.0,254.9 583.5,252.9 584.0,250.6 584.5,252.3 585.0,251.6 585.5,252.2 586.0,250.8 586.5,249.6 587.0,251.0 587.5,252.7 588.0,252.9 588.5,251.9 589.0,250.8 589.5,252.0 590.0,254.9 590.5,255.7 591.0,256.7 591.5,256.8 592.0,254.9 592.5,255.3 593.0,255.9 593.5,256.4 594.0,258.7 594.5,260.8 595.0,258.8 595.5,258.7 596.0,258.8 596.5,259.0 597.0,259.0 597.5,259.6 598.0,262.0 598.5,260.5 599.0,259.6 599.5,259.7 600.0,259.4 600.5,261.0 601.0,263.5 601.5,263.1 602.0,264.2 602.5,260.0 603.0,256.8 603.5,256.4 604.0,257.1 604.5,255.8 605.0,254.2 605.5,254.2 606.0,255.2 606.5,257.0 607.0,259.5 607.5,259.1 608.0,258.1 608.5,256.9 609.0,256.0 609.5,256.3 610.0,257.4 610.5,258.4 611.0,259.5 611.5,258.1 612.0,260.2 612.5,260.1 613.0,260.0 613.5,255.5 614.0,252.5 614.5,250.7 615.0,251.4 615.5,251.2 616.0,250.4 616.5,249.3 617.0,247.1 617.5,250.1 618.0,253.7 618.5,254.2 619.0,254.0 619.5,256.0 620.0,259.0 620.5,252.9 621.0,248.5 621.5,252.1 622.0,255.5 622.5,253.7 623.0,250.1 623.5,251.5 624.0,250.6 624.5,252.0 625.0,249.6 625.5,250.8 626.0,251.4 626.5,250.4 627.0,251.9 627.5,253.6 628.0,254.8 628.5,252.2 629.0,249.8 629.5,251.9 630.0,253.0 630.5,251.9 631.0,253.3 631.5,253.5 632.0,253.4 632.5,252.7 633.0,251.7 633.5,251.9 634.0,251.6 634.5,250.8 635.0,251.7 635.5,251.3 636.0,249.6 636.5,249.3 637.0,250.6 637.5,249.8 638.0,247.7 638.5,247.4 639.0,245.7 639.5,251.0 640.0,254.8 640.5,251.5 641.0,249.4 641.5,248.3 642.0,247.8 642.5,250.2 643.0,251.6 643.5,248.3 644.0,245.7 644.5,245.4 645.0,242.3 645.5,240.8 646.0,241.1 646.5,243.0 647.0,245.6 647.5,243.6 648.0,238.5 648.5,240.9 649.0,239.5 649.5,241.3 650.0,243.5 650.5,240.9 651.0,240.6 651.5,240.0 652.0,237.7 652.5,236.8 653.0,238.2 653.5,240.6 654.0,242.3 654.5,242.8 655.0,246.4 655.5,242.2 656.0,235.5 656.5,238.4 657.0,240.3 657.5,243.4 658.0,245.4 658.5,243.8 659.0,243.8 659.5,241.5 660.0,238.6 660.5,236.6 661.0,237.5 661.5,237.4 662.0,237.2 662.5,235.6 663.0,235.2 663.5,234.3 664.0,234.9 664.5,236.9 665.0,238.8 665.5,235.8 666.0,236.2 666.5,238.1 667.0,238.2 667.5,238.0 668.0,237.0 668.5,236.4 669.0,235.8 669.5,238.5 670.0,240.3 670.5,240.5 671.0,239.5 671.5,239.9 672.0,240.1 672.5,240.7 673.0,240.9 673.5,242.3 674.0,241.5 674.5,241.7 675.0,240.1 675.5,240.0 676.0,242.4 676.5,243.0 677.0,241.3 677.5,244.3 678.0,249.9 678.5,245.7 679.0,243.5 679.5,244.1 680.0,243.5 680.5,244.8 681.0,243.0 681.5,242.4 682.0,240.5 682.5,241.8 683.0,243.1 683.5,240.7 684.0,239.8 684.5,236.5 685.0,234.2 685.5,234.7 686.0,235.3 686.5,235.1 687.0,234.6 687.5,231.8 688.0,226.1 688.5,227.9 689.0,228.4 689.5,226.0 690.0,223.4 690.5,223.8 691.0,223.0 691.5,218.9 692.0,215.8 692.5,219.6 693.0,225.0 693.5,223.4 694.0,223.6 694.5,218.7 695.0,218.7 695.5,224.0 696.0,227.3 696.5,224.7 697.0,224.4 697.5,223.9 698.0,223.6 698.5,223.7 699.0,224.5 699.5,227.7 700.0,233.1 700.5,233.6 701.0,234.2 701.5,232.3 702.0,230.2 702.5,229.0 703.0,227.6 703.5,226.6 704.0,228.0 704.5,229.8 705.0,233.1 705.5,232.3 706.0,234.6 706.5,232.0 707.0,230.3 707.5,230.9 708.0,233.5 708.5,234.2 709.0,235.1 709.5,234.3 710.0,237.4 710.5,238.9 711.0,238.8 711.5,235.9 712.0,234.5 712.5,233.4 713.0,230.8 713.5,231.1 714.0,230.2 714.5,231.6 715.0,234.2 715.5,234.5 716.0,232.9 716.5,232.5 717.0,235.5 717.5,235.9 718.0,237.5 718.5,235.1 719.0,235.3 719.5,234.9 720.0,237.9 720.5,236.9 721.0,237.8 721.5,237.7 722.0,239.4 722.5,237.2 723.0,236.6 723.5,235.1 724.0,235.0 724.5,239.2 725.0,243.1 725.5,244.8 726.0,243.7 726.5,240.3 727.0,239.0 727.5,239.5 728.0,238.2 728.5,235.0 729.0,232.5 729.5,230.5 730.0,234.2 730.5,238.9 731.0,244.3 731.5,246.1 732.0,241.9 732.5,242.1 733.0,244.3 733.5,246.5 734.0,248.7 734.5,246.2 735.0,244.5 735.5,242.1 736.0,241.2 736.5,243.8 737.0,245.3 737.5,246.2 738.0,246.7 738.5,245.4 739.0,244.1 739.5,242.7 740.0,240.2 740.5,238.9 741.0,237.8 741.5,238.5 742.0,241.2 742.5,242.5 743.0,244.1 743.5,242.5 744.0,243.9 744.5,247.0 745.0,247.0 745.5,248.0 746.0,248.4 746.5,249.0 747.0,250.7 747.5,248.5 748.0,244.3 748.5,250.7 749.0,256.7 749.5,258.2 750.0,258.8 750.5,258.9 751.0,253.5 751.5,252.8 752.0,251.4 752.5,253.3 753.0,257.3 753.5,258.6 754.0,254.8 754.5,255.1 755.0,256.5 755.5,256.4 756.0,258.9 756.5,256.1 757.0,250.8 757.5,252.9 758.0,253.0 758.5,248.9 759.0,246.1 759.5,248.7 760.0,252.1 760.5,248.8 761.0,246.0 761.5,243.6 762.0,242.6 762.5,241.2 763.0,243.2 763.5,244.2 764.0,245.9 764.5,246.7 765.0,248.3 765.5,250.5 766.0,251.1 766.5,252.0 767.0,253.2 767.5,252.8 768.0,251.9 768.5,256.0 769.0,258.1 769.5,253.6 770.0,248.8 770.5,252.5 771.0,256.5 771.5,255.3 772.0,255.1 772.5,254.2 773.0,256.1 773.5,254.6 774.0,248.6 774.5,250.0 775.0,250.8 775.5,250.9 776.0,252.5 776.5,251.5 777.0,250.1 777.5,248.6 778.0,248.0 778.5,248.8 779.0,249.3 779.5,248.0 780.0,247.6 780.5,250.3 781.0,251.5 781.5,252.1 782.0,251.9 782.5,252.8 783.0,255.7 783.5,258.3 784.0,259.3 784.5,261.5 785.0,262.0 785.5,259.1 786.0,259.3 786.5,259.6 787.0,258.9 787.5,258.4 788.0,257.3 788.5,256.9 789.0,258.0 789.5,257.0 790.0,256.2 790.5,255.3 791.0,256.0 791.5,261.2 792.0,261.9 792.5,256.7 793.0,251.6 793.5,248.4 794.0,247.5 794.5,246.8 795.0,246.4 795.5,247.4 796.0,245.9 796.5,249.1 797.0,249.7 797.5,255.2 798.0,257.7 798.5,260.3 799.0,260.5 799.5,260.7 800.0,256.8 800.5,254.6 801.0,251.4 801.5,257.3 802.0,261.8 802.5,258.3 803.0,254.8 803.5,256.6 804.0,256.4 804.5,253.6 805.0,252.7 805.5,253.3 806.0,254.6 806.5,253.2 807.0,250.4 807.5,250.8 808.0,251.7 808.5,250.5 809.0,249.9 809.5,249.2 810.0,249.5 810.5,250.8 811.0,251.2 811.5,253.7 812.0,255.6 812.5,253.8 813.0,253.1 813.5,254.7 814.0,257.0 814.5,258.5 815.0,256.5 815.5,257.9 816.0,259.6 816.5,260.4 817.0,261.3 817.5,263.2 818.0,262.6 818.5,262.2 819.0,262.3 819.5,262.2 820.0,261.4 820.5,262.0 821.0,263.1 821.5,261.1 822.0,257.6 822.5,262.6 823.0,267.2 823.5,264.9 824.0,260.2 824.5,261.8 825.0,265.0 825.5,263.0 826.0,260.8 826.5,261.3 827.0,264.5 827.5,263.4 828.0,261.3 828.5,262.1 829.0,262.6 829.5,260.6 830.0,258.3 830.5,256.1 831.0,254.4 831.5,258.0 832.0,259.9 832.5,258.8 833.0,257.1 833.5,254.8 834.0,255.4 834.5,255.1 835.0,255.8 835.5,260.0 836.0,259.4 836.5,256.1 837.0,252.4 837.5,255.7 838.0,257.1 838.5,256.6 839.0,254.1 839.5,259.6 840.0,263.9 840.5,259.7 841.0,258.2 841.5,255.6 842.0,256.0 842.5,263.2 843.0,272.0 843.5,266.8 844.0,261.6 844.5,266.1 845.0,269.0 845.5,268.6 846.0,268.8 846.5,269.4 847.0,267.4 847.5,268.0 848.0,265.3 848.5,267.2 849.0,267.9 849.5,270.2 850.0,271.7 850.5,270.1 851.0,267.3 851.5,266.3 852.0,266.5 852.5,265.9 853.0,266.0 853.5,264.0 854.0,261.0 854.5,259.1 855.0,257.8 855.5,261.0 856.0,265.5 856.5,264.8 857.0,263.1 857.5,262.6 858.0,262.9 858.5,262.7 859.0,262.7 859.5,263.0 860.0,263.9 860.5,266.0 861.0,267.0 861.5,264.0 862.0,262.6 862.5,258.3 863.0,249.7 863.5,249.6 864.0,253.6 864.5,256.5 865.0,260.3 865.5,263.0 866.0,267.4 866.5,267.5 867.0,267.6 867.5,265.2 868.0,263.0 868.5,264.2 869.0,265.2 869.5,263.1 870.0,259.6 870.5,259.2 871.0,262.1 871.5,258.0 872.0,255.3 872.5,257.5 873.0,258.0 873.5,259.7 874.0,263.2 874.5,265.6 875.0,267.2 875.5,267.8 876.0,264.7 876.5,264.0 877.0,264.9 877.5,264.4 878.0,263.8 878.5,264.2 879.0,262.2 879.5,265.2 880.0,266.8 880.5,265.5 881.0,264.6 881.5,264.3 882.0,266.4 882.5,261.9 883.0,261.2 883.5,261.8 884.0,262.5 884.5,259.9 885.0,258.7 885.5,261.2 886.0,264.2 886.5,266.2 887.0,267.4 887.5,269.4 888.0,269.2 888.5,271.9 889.0,272.0 889.5,270.9 890.0,269.2 890.5,268.9 891.0,269.7 891.5,270.1 892.0,269.2 892.5,268.9 893.0,267.7 893.5,269.3 894.0,274.3 894.5,276.0 895.0,274.3 895.5,272.2 896.0,271.4 896.5,269.3 897.0,269.3 897.5,270.8 898.0,273.4 898.5,276.4 899.0,275.5 899.5,275.0 900.0,271.6 900.5,273.1 901.0,273.0 901.5,272.4 902.0,272.4 902.5,271.7 903.0,274.0 903.5,276.1 904.0,276.4 904.5,277.5 905.0,275.1 905.5,270.6 906.0,269.2 906.5,269.7 907.0,271.8 907.5,271.5 908.0,267.6 908.5,268.4 909.0,267.4 909.5,270.6 910.0,274.4 910.5,272.3 911.0,269.6 911.5,267.4 912.0,264.6 912.5,268.0 913.0,274.9 913.5,279.1 914.0,281.1 914.5,282.6 915.0,283.3 915.5,279.4 916.0,277.3 916.5,280.4 917.0,281.7 917.5,273.8 918.0,270.8 918.5,271.9 919.0,274.5 919.5,276.7 920.0,278.2 920.5,276.3 921.0,276.1 921.5,276.3 922.0,276.3 922.5,276.4 923.0,274.8 923.5,274.2 924.0,269.9 924.5,271.8 925.0,273.9 925.5,272.1 926.0,270.2 926.5,271.1 927.0,271.3 927.5,271.0 928.0,265.2 928.5,266.5 929.0,268.2 929.5,267.9 930.0,268.4 930.5,269.5 931.0,272.5 931.5,269.5 932.0,268.8 932.5,269.5 933.0,269.3 933.5,268.5 934.0,266.9 934.5,268.2 935.0,269.3 935.5,271.3 936.0,271.8 936.5,272.9 937.0,271.9 937.5,264.9 938.0,259.7 938.5,260.6 939.0,263.3 939.5,267.5 940.0,272.2 940.5,270.6 941.0,266.7 941.5,265.5 942.0,265.2 942.5,264.9 943.0,267.5 943.5,265.8 944.0,262.8 944.5,260.8 945.0,257.8 945.5,258.0 946.0,257.6 946.5,261.1 947.0,264.9 947.5,260.7 948.0,257.6 948.5,260.5 949.0,266.0 949.5,264.7 950.0,262.3 950.5,263.2 951.0,266.0 951.5,270.2 952.0,271.9 952.5,269.5 953.0,265.7 953.5,264.3 954.0,267.4 954.5,265.7 955.0,263.6 955.5,259.8 956.0,259.8 956.5,261.8 957.0,264.7 957.5,268.2 958.0,268.6 958.5,268.3 959.0,266.1 959.5,268.9 960.0,269.3 960.5,270.8 961.0,270.9 961.5,271.8 962.0,272.7 962.5,270.7 963.0,270.0 963.5,270.0 964.0,270.6 964.5,267.4 965.0,264.6 965.5,265.8 966.0,267.6 966.5,266.2 967.0,264.9 967.5,267.0 968.0,269.6 968.5,268.7 969.0,270.0 969.5,268.6 970.0,266.9 970.5,268.5 971.0,271.4 971.5,270.7 972.0,269.2 972.5,269.8 973.0,269.5 973.5,267.1 974.0,267.2 974.5,269.6 975.0,271.6 975.5,272.2 976.0,273.6 976.5,272.8 977.0,270.7 977.5,271.9 978.0,274.2 978.5,279.5 979.0,285.6 979.5,286.1 980.0,279.2 980.5,280.2 981.0,278.8 981.5,281.9 982.0,282.5 982.5,286.5 983.0,289.0 983.5,290.6 984.0,290.0 984.5,290.8 985.0,292.8 985.5,293.3 986.0,292.3 986.5,294.8 987.0,297.6 987.5,298.8 988.0,298.6 988.5,298.7 989.0,301.0 989.5,297.5 990.0,294.2 990.5,298.5 991.0,301.2 991.5,301.5 992.0,299.7 992.5,300.7 993.0,303.0 993.5,303.4 994.0,305.6 994.5,306.3 995.0,310.3 995.5,311.6 996.0,312.3 996.5,312.9 997.0,310.3 997.5,308.8 998.0,304.8 998.5,304.1 999.0,306.2 999.5,308.7 1000.0,309.7 1000.5,310.8 1001.0,312.3 1001.5,315.9 1002.0,320.8 1002.5,318.1 1003.0,317.1 1003.5,318.8 1004.0,318.3 1004.5,318.9 1005.0,318.6 1005.5,318.6 1006.0,321.3 1006.5,322.2 1007.0,323.1 1007.5,320.8 1008.0,318.9 1008.5,317.3 1009.0,318.9 1009.5,319.9 1010.0,322.7 1010.5,323.4 1011.0,321.7 1011.5,322.0 1012.0,321.8 1012.5,324.4 1013.0,325.6" stroke="#00f"/>
</g>
<g fill="#808080">
<polygon points="173.2,139.6 195.7,139.6 184.4,160.8"/><polygon points="274.6,32.8 297.1,32.8 285.9,54.0"/><polygon points="175.8,225.8 198.2,225.8 187.0,247.0"/><polygon points="271.9,118.8 294.4,118.8 283.1,140.0"/><polygon points="173.4,312.3 195.9,312.3 184.7,333.5"/><polygon points="274.6,224.2 297.1,224.2 285.9,245.4"/><polygon points="461.7,162.8 472.8,173.7 461.7,184.5 450.6,173.7"/><polygon points="701.8,199.6 712.9,210.4 701.8,221.2 690.7,210.4"/><polygon points="961.6,232.7 972.7,243.5 961.6,254.3 950.5,243.5"/><polygon points="461.3,231.3 472.4,242.2 461.3,253.0 450.2,242.2"/><polygon points="706.5,280.4 717.6,291.2 706.5,302.0 695.4,291.2"/><polygon points="883.8,305.3 894.9,316.1 883.8,326.9 872.7,316.1"/><polygon points="962.3,314.2 973.4,325.0 962.3,335.8 951.2,325.0"/><polygon points="463.0,323.0 474.1,333.8 463.0,344.6 451.9,333.8"/><polygon points="703.4,380.5 714.5,391.3 703.4,402.1 692.3,391.3"/>
</g>
<rect x="137" y="12.5" width="877.5" height="634" fill="none" stroke="#000" stroke-width="3"/>
<g stroke="#000" stroke-width="3">
<line x1="192" y1="646" x2="192" y2="633"/>
<line x1="411.3" y1="646" x2="411.3" y2="633"/>
<line x1="630.8" y1="646" x2="630.8" y2="633"/>
<line x1="850.3" y1="646" x2="850.3" y2="633"/>
</g>
<g font-size="39.5" text-anchor="middle" fill="#000">
<text x="192" y="689" textLength="62" lengthAdjust="spacingAndGlyphs">200</text>
<text x="411.3" y="689" textLength="62" lengthAdjust="spacingAndGlyphs">400</text>
<text x="630.8" y="689" textLength="62" lengthAdjust="spacingAndGlyphs">600</text>
<text x="850.3" y="689" textLength="62" lengthAdjust="spacingAndGlyphs">800</text>
</g>
<text x="419.3" y="741" font-size="39" font-weight="bold" fill="#000">Raman shift (cm<tspan font-size="22.5" dx="3" dy="-21">-1</tspan><tspan dx="1" dy="21">)</tspan></text>
<text transform="translate(38.5,526) rotate(-90)" x="0" y="0" font-size="39" font-weight="bold" fill="#000" textLength="335.8" lengthAdjust="spacing">Intensity (arb. unit)</text>
<rect x="394.2" y="21.3" width="599" height="92.2" fill="#fff" stroke="#000" stroke-width="1.5"/>
<g fill="#808080">
<polygon points="409.2,41.9 431.2,41.9 420.2,63.3"/>
<polygon points="420.2,79.3 431.3,90.3 420.2,101.3 409.1,90.3"/>
</g>
<g font-size="33.5" fill="#000">
<text x="431" y="64" textLength="544.4" lengthAdjust="spacing">Ti-O-K Bonding (K-incoporated phases)</text>
<text x="431" y="105" textLength="538.2" lengthAdjust="spacing">Ti-O Bonding (various Ti-oxide phases)</text>
</g>
<g font-size="33.8">
<text x="604.8" y="197.8" fill="#00f" textLength="380.3" lengthAdjust="spacing">10 mol/L-KOH treated TAV</text>
<text x="608.5" y="382" fill="#f00" textLength="342.6" lengthAdjust="spacing">10 mol/L-KOH treated Ti</text>
<text x="605.8" y="478" fill="#006868" textLength="357.5" lengthAdjust="spacing">20 mol/L-KOH treated TN</text>
<text x="769.7" y="565.2" fill="#000" textLength="170.3" lengthAdjust="spacing">Untreated Ti</text>
</g>
</svg>
</body></html>
